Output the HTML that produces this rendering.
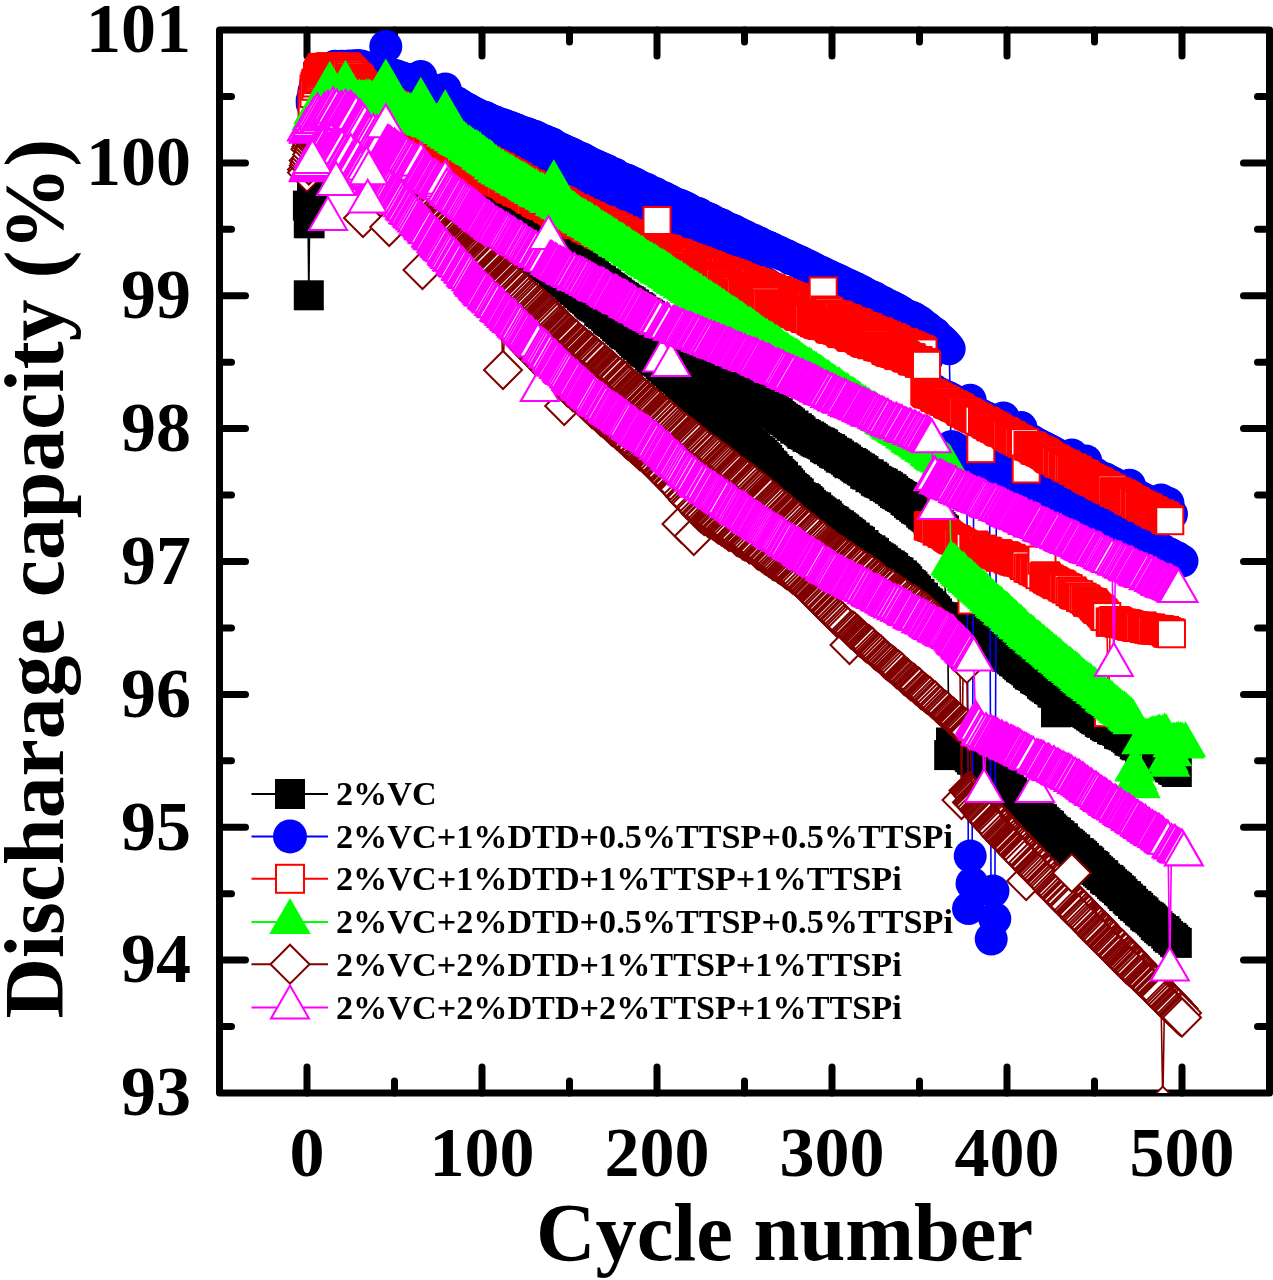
<!DOCTYPE html>
<html lang="en"><head><meta charset="utf-8"><title>Discharge capacity vs cycle number</title>
<style>html,body{margin:0;padding:0;background:#fff}svg{display:block}text{font-family:"Liberation Serif",serif;font-weight:bold;fill:#000}</style>
</head><body>
<svg width="1273" height="1280" viewBox="0 0 1273 1280">
<rect width="1273" height="1280" fill="#fff"/>
<defs>
<clipPath id="cp"><rect x="219.5" y="30.0" width="1050.0" height="1063.0"/></clipPath>
<marker id="mk" markerUnits="userSpaceOnUse" markerWidth="60" markerHeight="60" refX="0" refY="0" viewBox="-30 -30 60 60" overflow="visible"><rect x="-15" y="-15" width="30" height="30" fill="#000"/></marker>
<marker id="mb" markerUnits="userSpaceOnUse" markerWidth="60" markerHeight="60" refX="0" refY="0" viewBox="-30 -30 60 60" overflow="visible"><circle r="16.5" fill="#0000ff"/></marker>
<marker id="mr" markerUnits="userSpaceOnUse" markerWidth="60" markerHeight="60" refX="0" refY="0" viewBox="-30 -30 60 60" overflow="visible"><rect x="-13.5" y="-13.5" width="27" height="27" fill="#fff" stroke="#ff0000" stroke-width="2"/></marker>
<marker id="mg" markerUnits="userSpaceOnUse" markerWidth="60" markerHeight="60" refX="0" refY="0" viewBox="-30 -30 60 60" overflow="visible"><path d="M0,-21.94 L19.00,10.97 L-19.00,10.97 Z" fill="#00ff00" stroke="#00ff00" stroke-width="2" stroke-linejoin="miter"/></marker>
<marker id="mn" markerUnits="userSpaceOnUse" markerWidth="60" markerHeight="60" refX="0" refY="0" viewBox="-30 -30 60 60" overflow="visible"><path d="M0,-19 L19,0 L0,19 L-19,0 Z" fill="#fff" stroke="#800000" stroke-width="2"/></marker>
<marker id="mm" markerUnits="userSpaceOnUse" markerWidth="60" markerHeight="60" refX="0" refY="0" viewBox="-30 -30 60 60" overflow="visible"><path d="M0,-21.94 L19.00,10.97 L-19.00,10.97 Z" fill="#fff" stroke="#ff00ff" stroke-width="2.1" stroke-linejoin="miter"/></marker>
</defs>
<g stroke="#000" stroke-width="7" stroke-linecap="round" fill="none">
<rect x="219.5" y="30.0" width="1050.0" height="1063.0" stroke-linejoin="round"/>
<path d="M307.0,30.0 v26.0 M307.0,1093.0 v-26.0"/>
<path d="M394.5,30.0 v12.0 M394.5,1093.0 v-12.0"/>
<path d="M482.0,30.0 v26.0 M482.0,1093.0 v-26.0"/>
<path d="M569.5,30.0 v12.0 M569.5,1093.0 v-12.0"/>
<path d="M657.0,30.0 v26.0 M657.0,1093.0 v-26.0"/>
<path d="M744.5,30.0 v12.0 M744.5,1093.0 v-12.0"/>
<path d="M832.0,30.0 v26.0 M832.0,1093.0 v-26.0"/>
<path d="M919.5,30.0 v12.0 M919.5,1093.0 v-12.0"/>
<path d="M1007.0,30.0 v26.0 M1007.0,1093.0 v-26.0"/>
<path d="M1094.5,30.0 v12.0 M1094.5,1093.0 v-12.0"/>
<path d="M1182.0,30.0 v26.0 M1182.0,1093.0 v-26.0"/>
<path d="M219.5,1026.6 h12.0 M1269.5,1026.6 h-12.0"/>
<path d="M219.5,960.1 h26.0 M1269.5,960.1 h-26.0"/>
<path d="M219.5,893.7 h12.0 M1269.5,893.7 h-12.0"/>
<path d="M219.5,827.2 h26.0 M1269.5,827.2 h-26.0"/>
<path d="M219.5,760.8 h12.0 M1269.5,760.8 h-12.0"/>
<path d="M219.5,694.4 h26.0 M1269.5,694.4 h-26.0"/>
<path d="M219.5,627.9 h12.0 M1269.5,627.9 h-12.0"/>
<path d="M219.5,561.5 h26.0 M1269.5,561.5 h-26.0"/>
<path d="M219.5,495.1 h12.0 M1269.5,495.1 h-12.0"/>
<path d="M219.5,428.6 h26.0 M1269.5,428.6 h-26.0"/>
<path d="M219.5,362.2 h12.0 M1269.5,362.2 h-12.0"/>
<path d="M219.5,295.8 h26.0 M1269.5,295.8 h-26.0"/>
<path d="M219.5,229.3 h12.0 M1269.5,229.3 h-12.0"/>
<path d="M219.5,162.9 h26.0 M1269.5,162.9 h-26.0"/>
<path d="M219.5,96.4 h12.0 M1269.5,96.4 h-12.0"/>
</g>
<g clip-path="url(#cp)" fill="none" stroke-width="1.6">
<polyline points="307.9,205.6 308.8,295.3 309.6,223.3 310.5,214.1 312.2,197.1 314.0,178.9 315.8,160.0 317.5,156.6 319.2,155.0 321.0,152.3 322.8,150.9 324.5,146.8 326.2,145.7 328.0,143.5 329.8,140.5 331.5,138.1 333.2,134.4 335.0,136.3 336.8,135.7 338.5,136.9 340.2,137.2 342.0,136.0 343.8,137.6 345.5,138.2 347.2,136.8 349.0,137.7 350.8,138.8 352.5,138.0 354.2,139.8 356.0,138.9 357.8,140.3 359.5,139.3 361.2,140.8 363.0,142.5 364.8,141.9 366.5,142.8 368.2,144.1 370.0,144.5 371.8,144.8 373.5,145.9 375.2,146.7 377.0,149.0 378.8,149.3 380.5,150.6 382.2,149.9 384.0,152.0 385.8,151.4 387.5,153.1 389.2,154.1 391.0,154.4 392.8,156.2 394.5,156.4 396.2,157.3 398.0,158.7 399.8,157.9 401.5,160.5 403.2,160.6 405.0,161.0 406.8,162.6 408.5,162.3 410.2,164.6 412.0,164.6 413.8,165.0 415.5,166.6 417.2,166.8 419.0,167.0 420.8,169.0 422.5,168.4 424.2,170.8 426.0,170.5 427.8,172.0 429.5,173.5 431.2,173.6 433.0,174.5 434.8,174.6 436.5,174.8 438.2,175.7 440.0,176.8 441.8,178.5 443.5,179.0 445.2,179.9 447.0,181.5 448.8,180.8 450.5,181.8 452.2,183.5 454.0,183.0 455.8,183.8 457.5,185.3 459.2,185.6 461.0,186.9 462.8,187.5 464.5,189.0 466.2,189.8 468.0,189.9 469.8,191.5 471.5,192.1 473.2,192.2 475.0,194.6 476.8,194.0 478.5,194.7 480.2,195.4 482.0,197.3 483.8,199.0 485.5,200.0 487.2,200.5 489.0,201.5 490.8,202.2 492.5,204.7 494.2,205.8 496.0,206.6 497.8,208.4 499.5,209.3 501.2,211.5 503.0,212.3 504.8,212.6 506.5,215.2 508.2,214.7 510.0,216.9 511.8,217.9 513.5,218.8 515.2,219.7 517.0,222.3 518.8,222.0 520.5,224.4 522.2,226.4 524.0,226.0 525.8,227.4 527.5,229.4 529.2,230.5 531.0,232.0 532.8,233.6 534.5,233.5 536.2,235.0 538.0,236.2 539.8,237.0 541.5,239.9 543.2,240.9 545.0,242.0 546.8,241.8 548.5,244.8 550.2,245.8 552.0,246.5 553.8,248.3 555.5,248.9 557.2,249.7 559.0,250.7 560.8,252.2 562.5,253.1 564.2,254.9 566.0,257.0 567.8,258.1 569.5,259.6 571.2,260.6 573.0,260.9 574.8,262.8 576.5,263.8 578.2,265.7 580.0,266.4 581.8,267.1 583.5,269.1 585.2,271.0 587.0,270.8 588.8,273.3 590.5,272.8 592.2,274.6 594.0,275.8 595.8,278.0 597.5,279.7 599.2,280.5 601.0,280.9 602.8,283.3 604.5,283.5 606.2,284.6 608.0,287.2 609.8,287.9 611.5,289.3 613.2,290.5 615.0,292.4 616.8,292.6 618.5,294.6 620.2,295.6 622.0,297.2 623.8,297.7 625.5,299.5 627.2,300.5 629.0,301.2 630.8,302.3 632.5,304.4 634.2,304.6 636.0,307.5 637.8,307.2 639.5,308.3 641.2,309.7 643.0,312.6 644.8,312.7 646.5,313.6 648.2,314.6 650.0,315.9 651.8,318.5 653.5,319.6 655.2,321.0 657.0,322.4 658.8,322.3 660.5,324.6 662.2,325.4 664.0,327.6 665.8,328.9 667.5,330.3 669.2,329.9 671.0,332.8 672.8,334.2 674.5,335.5 676.2,335.1 678.0,336.5 679.8,337.6 681.5,338.7 683.2,341.6 685.0,342.8 686.8,343.8 688.5,345.4 690.2,346.3 692.0,346.9 693.8,347.8 695.5,349.0 697.2,351.6 699.0,351.8 700.8,353.3 702.5,354.8 704.2,355.2 706.0,357.0 707.8,358.3 709.5,360.4 711.2,361.0 713.0,362.2 714.8,364.7 716.5,365.1 718.2,367.0 720.0,367.8 721.8,367.9 723.5,370.0 725.2,371.3 727.0,373.2 728.8,373.7 730.5,375.6 732.2,376.6 734.0,377.4 735.8,380.2 737.5,380.2 739.2,383.1 741.0,383.3 742.8,384.5 744.5,386.4 746.2,389.0 748.0,391.0 749.8,390.5 751.5,393.0 753.2,394.5 755.0,396.6 756.8,396.8 758.5,398.8 760.2,399.8 762.0,402.2 763.8,402.4 765.5,405.2 767.2,405.3 769.0,406.5 770.8,408.9 772.5,409.8 774.2,410.5 776.0,412.9 777.8,413.2 779.5,416.0 781.2,417.2 783.0,418.7 784.8,419.8 786.5,420.6 788.2,422.1 790.0,423.5 791.8,425.9 793.5,425.6 795.2,428.6 797.0,428.3 798.8,430.0 800.5,431.5 802.2,433.8 804.0,434.0 805.8,434.8 807.5,436.8 809.2,436.5 811.0,437.9 812.8,439.1 814.5,440.5 816.2,441.5 818.0,442.3 819.8,442.7 821.5,443.8 823.2,444.6 825.0,447.1 826.8,447.9 828.5,449.2 830.2,449.2 832.0,450.9 833.8,452.7 835.5,453.5 837.2,453.7 839.0,455.6 840.8,457.6 842.5,457.4 844.2,458.5 846.0,459.8 847.8,461.8 849.5,463.2 851.2,463.0 853.0,464.1 854.8,465.5 856.5,466.8 858.2,468.3 860.0,468.7 861.8,470.2 863.5,471.1 865.2,473.8 867.0,474.5 868.8,474.4 870.5,477.2 872.2,476.7 874.0,478.4 875.8,480.7 877.5,481.5 879.2,482.5 881.0,483.1 882.8,483.8 884.5,485.8 886.2,485.9 888.0,487.2 889.8,488.7 891.5,489.2 893.2,491.1 895.0,493.0 896.8,493.9 898.5,494.7 900.2,496.1 902.0,496.9 903.8,497.7 905.5,500.0 907.2,500.9 909.0,503.0 910.8,504.7 912.5,505.1 914.2,506.8 916.0,508.5 917.8,509.2 919.5,510.2 921.2,512.6 923.0,514.3 924.8,515.4 926.5,516.7 928.2,518.3 930.0,519.4 931.8,520.7 933.5,521.7 935.2,522.8 937.0,524.8 938.8,525.1 940.5,527.1 942.2,529.2 944.0,530.4 945.8,617.3 947.5,617.6 949.2,619.0 951.0,620.2 952.8,621.6 954.5,622.3 956.2,623.9 958.0,625.5 959.8,625.1 961.5,627.1 963.2,628.5 965.0,628.8 966.8,630.1 968.5,632.1 970.2,631.3 972.0,633.5 973.8,633.8 975.5,636.1 977.2,637.5 979.0,637.8 980.8,638.0 982.5,640.1 984.2,641.1 986.0,642.5 987.8,643.2 989.5,644.6 991.2,646.0 993.0,646.5 994.8,647.4 996.5,649.5 998.2,649.1 1000.0,651.2 1001.8,651.7 1003.5,653.5 1005.2,653.6 1007.0,656.7 1008.8,656.8 1010.5,657.6 1012.2,659.4 1014.0,661.1 1015.8,661.7 1017.5,663.9 1019.2,665.3 1021.0,667.2 1022.8,667.9 1024.5,669.1 1026.2,670.4 1028.0,672.8 1029.8,674.6 1031.5,675.1 1033.2,675.9 1035.0,678.4 1036.8,679.0 1038.5,680.0 1040.2,681.2 1042.0,683.9 1043.8,685.3 1045.5,686.4 1047.2,687.4 1049.0,689.0 1050.8,689.7 1052.5,692.5 1054.2,692.7 1056.0,712.3 1057.8,695.6 1059.5,696.7 1061.2,697.1 1063.0,697.8 1064.8,699.4 1066.5,699.7 1068.2,702.2 1070.0,702.3 1071.8,704.4 1073.5,704.3 1075.2,705.6 1077.0,706.4 1078.8,707.9 1080.5,708.5 1082.2,709.2 1084.0,711.7 1085.8,711.9 1087.5,712.9 1089.2,714.1 1091.0,715.5 1092.8,716.5 1094.5,718.0 1096.2,719.2 1098.0,719.6 1099.8,721.9 1101.5,722.8 1103.2,722.3 1105.0,724.9 1106.8,726.1 1108.5,727.0 1110.2,726.8 1112.0,729.2 1113.8,729.9 1115.5,729.8 1117.2,730.9 1119.0,733.8 1120.8,734.3 1122.5,734.7 1124.2,735.6 1126.0,736.8 1127.8,738.2 1129.5,740.5 1131.2,740.8 1133.0,741.6 1134.8,744.3 1136.5,745.3 1138.2,745.2 1140.0,747.8 1141.8,748.5 1143.5,750.0 1145.2,751.0 1147.0,752.6 1148.8,753.6 1150.5,754.9 1152.2,754.8 1154.0,756.9 1155.8,757.8 1157.5,759.4 1159.2,760.0 1161.0,762.1 1162.8,762.6 1164.5,763.2 1166.2,764.3 1168.0,765.3 1169.8,767.2 1171.5,767.6 1173.2,769.6 1175.0,770.1 1176.8,772.0" stroke="#000" marker-start="url(#mk)" marker-mid="url(#mk)" marker-end="url(#mk)"/>
<polyline points="308.8,223.0 310.5,208.6 312.2,194.7 314.0,178.5 315.8,165.7 317.5,162.4 319.2,160.1 321.0,157.8 322.8,155.7 324.5,152.2 326.2,149.8 328.0,148.4 329.8,144.2 331.5,142.8 333.2,140.3 335.0,139.5 336.8,141.0 338.5,141.6 340.2,142.5 342.0,141.7 343.8,143.4 345.5,142.8 347.2,143.2 349.0,144.4 350.8,143.1 352.5,144.8 354.2,145.1 356.0,144.9 357.8,146.3 359.5,145.7 361.2,146.9 363.0,147.9 364.8,149.3 366.5,149.1 368.2,150.4 370.0,151.3 371.8,152.5 373.5,154.0 375.2,153.8 377.0,155.8 378.8,155.9 380.5,157.0 382.2,157.4 384.0,158.8 385.8,160.7 387.5,160.9 389.2,162.1 391.0,162.1 392.8,163.0 394.5,163.9 396.2,165.4 398.0,166.4 399.8,167.6 401.5,167.0 403.2,169.3 405.0,170.5 406.8,170.8 408.5,170.7 410.2,172.1 412.0,172.4 413.8,173.7 415.5,176.1 417.2,176.4 419.0,177.4 420.8,178.6 422.5,179.7 424.2,180.1 426.0,181.0 427.8,181.9 429.5,183.0 431.2,183.7 433.0,184.8 434.8,184.7 436.5,186.6 438.2,187.1 440.0,188.6 441.8,188.2 443.5,189.2 445.2,189.9 447.0,192.3 448.8,193.5 450.5,193.9 452.2,194.2 454.0,196.0 455.8,196.9 457.5,197.3 459.2,197.6 461.0,198.6 462.8,199.8 464.5,200.5 466.2,201.6 468.0,203.0 469.8,204.5 471.5,203.6 473.2,205.6 475.0,205.4 476.8,206.5 478.5,208.8 480.2,209.2 482.0,210.8 483.8,211.4 485.5,212.0 487.2,214.3 489.0,216.2 490.8,218.3 492.5,219.9 494.2,220.4 496.0,221.8 497.8,222.6 499.5,225.2 501.2,225.8 503.0,227.2 504.8,228.4 506.5,229.9 508.2,232.8 510.0,233.1 511.8,236.3 513.5,236.0 515.2,239.1 517.0,239.1 518.8,240.4 520.5,243.3 522.2,243.8 524.0,246.3 525.8,246.7 527.5,247.9 529.2,250.8 531.0,252.2 532.8,254.0 534.5,255.2 536.2,255.4 538.0,258.0 539.8,259.7 541.5,260.7 543.2,263.1 545.0,263.2 546.8,266.2 548.5,267.2 550.2,267.2 552.0,268.7 553.8,271.5 555.5,273.3 557.2,273.3 559.0,275.3 560.8,277.6 562.5,278.0 564.2,280.9 566.0,281.6 567.8,282.3 569.5,284.4 571.2,286.3 573.0,287.5 574.8,289.5 576.5,289.9 578.2,292.7 580.0,293.3 581.8,295.4 583.5,296.8 585.2,297.9 587.0,299.3 588.8,301.6 590.5,303.4 592.2,304.6 594.0,305.7 595.8,306.6 597.5,307.6 599.2,310.9 601.0,312.0 602.8,313.7 604.5,314.3 606.2,316.4 608.0,318.7 609.8,319.9 611.5,321.0 613.2,322.0 615.0,323.8 616.8,326.2 618.5,326.8 620.2,328.9 622.0,330.3 623.8,332.4 625.5,333.8 627.2,334.3 629.0,335.3 630.8,337.4 632.5,339.2 634.2,341.1 636.0,343.1 637.8,344.8 639.5,344.6 641.2,347.8 643.0,349.3 644.8,350.9 646.5,351.9 648.2,352.8 650.0,355.5 651.8,357.0 653.5,358.3 655.2,360.3 657.0,360.7 658.8,361.7 660.5,364.2 662.2,366.3 664.0,366.6 665.8,369.3 667.5,371.2 669.2,371.3 671.0,373.6 672.8,375.3 674.5,376.4 676.2,377.4 678.0,379.1 679.8,381.6 681.5,383.2 683.2,384.1 685.0,384.9 686.8,387.9 688.5,389.4 690.2,389.9 692.0,392.1 693.8,394.3 695.5,395.8 697.2,396.6 699.0,398.1 700.8,399.8 702.5,400.6 704.2,402.1 706.0,403.7 707.8,406.3 709.5,407.1 711.2,409.1 713.0,410.3 714.8,412.1 716.5,412.9 718.2,414.2 720.0,417.7 721.8,418.0 723.5,419.0 725.2,421.6 727.0,423.4 728.8,423.7 730.5,426.1 732.2,427.2 734.0,429.1 735.8,429.7 737.5,431.3 739.2,434.8 741.0,436.1 742.8,436.9 744.5,438.7 746.2,439.6 748.0,442.3 749.8,443.1 751.5,445.7 753.2,447.0 755.0,448.6 756.8,450.8 758.5,451.2 760.2,452.6 762.0,454.8 763.8,456.6 765.5,458.2 767.2,460.0 769.0,462.9 770.8,465.4 772.5,466.4 774.2,469.2 776.0,471.0 777.8,471.1 779.5,474.0 781.2,475.5 783.0,476.8 784.8,480.3 786.5,480.7 788.2,483.2 790.0,485.2 791.8,487.7 793.5,489.0 795.2,490.2 797.0,492.2 798.8,493.5 800.5,496.9 802.2,498.3 804.0,498.2 805.8,499.2 807.5,501.0 809.2,502.5 811.0,505.0 812.8,506.4 814.5,507.6 816.2,507.4 818.0,510.2 819.8,511.4 821.5,512.7 823.2,514.7 825.0,514.3 826.8,515.8 828.5,518.4 830.2,520.2 832.0,521.0 833.8,521.7 835.5,523.6 837.2,525.3 839.0,525.4 840.8,527.2 842.5,528.5 844.2,529.6 846.0,531.7 847.8,532.5 849.5,534.0 851.2,535.2 853.0,537.6 854.8,537.7 856.5,540.5 858.2,540.8 860.0,541.9 861.8,545.0 863.5,545.0 865.2,547.8 867.0,549.1 868.8,550.5 870.5,550.4 872.2,552.4 874.0,553.1 875.8,556.1 877.5,557.3 879.2,558.3 881.0,559.3 882.8,560.5 884.5,562.8 886.2,563.5 888.0,565.2 889.8,565.6 891.5,567.1 893.2,568.2 895.0,570.9 896.8,572.0 898.5,572.5 900.2,575.4 902.0,575.5 903.8,577.7 905.5,579.1 907.2,581.2 909.0,584.2 910.8,585.1 912.5,586.6 914.2,589.2 916.0,590.7 917.8,593.8 919.5,594.1 921.2,597.7 923.0,597.7 924.8,601.3 926.5,602.7 928.2,603.7 930.0,606.1 931.8,607.6 933.5,609.4 935.2,611.2 937.0,613.4 938.8,616.6 940.5,618.5 942.2,620.2 944.0,620.4 945.8,622.7 947.5,625.8 949.2,755.1 951.0,742.5 952.8,743.0 954.5,745.8 956.2,745.2 958.0,748.2 959.8,748.7 961.5,749.7 963.2,750.8 965.0,753.9 966.8,754.7 968.5,755.4 970.2,757.3 972.0,759.6 973.8,759.6 975.5,761.7 977.2,762.3 979.0,763.8 980.8,766.3 982.5,767.6 984.2,768.0 986.0,769.2 987.8,770.6 989.5,773.0 991.2,774.2 993.0,775.1 994.8,776.4 996.5,778.8 998.2,780.6 1000.0,782.4 1001.8,783.6 1003.5,784.4 1005.2,785.7 1007.0,788.7 1008.8,789.6 1010.5,791.8 1012.2,792.1 1014.0,795.2 1015.8,795.8 1017.5,798.5 1019.2,800.1 1021.0,801.0 1022.8,801.6 1024.5,805.0 1026.2,805.7 1028.0,808.1 1029.8,808.5 1031.5,809.9 1033.2,812.8 1035.0,813.5 1036.8,814.7 1038.5,816.7 1040.2,818.7 1042.0,819.2 1043.8,821.8 1045.5,823.2 1047.2,825.0 1049.0,825.8 1050.8,828.6 1052.5,830.4 1054.2,832.1 1056.0,832.6 1057.8,835.0 1059.5,835.9 1061.2,838.2 1063.0,838.4 1064.8,841.7 1066.5,843.4 1068.2,844.1 1070.0,845.7 1071.8,847.4 1073.5,849.0 1075.2,849.6 1077.0,853.0 1078.8,853.2 1080.5,854.7 1082.2,856.1 1084.0,858.0 1085.8,860.7 1087.5,860.8 1089.2,862.5 1091.0,865.3 1092.8,865.9 1094.5,867.1 1096.2,869.9 1098.0,871.4 1099.8,872.9 1101.5,874.9 1103.2,875.3 1105.0,878.4 1106.8,879.7 1108.5,880.0 1110.2,881.7 1112.0,884.1 1113.8,885.7 1115.5,886.8 1117.2,888.1 1119.0,890.3 1120.8,891.3 1122.5,893.8 1124.2,896.0 1126.0,896.2 1127.8,898.6 1129.5,900.5 1131.2,901.0 1133.0,903.9 1134.8,905.7 1136.5,906.2 1138.2,907.9 1140.0,910.3 1141.8,911.3 1143.5,912.6 1145.2,915.3 1147.0,916.6 1148.8,917.3 1150.5,918.7 1152.2,920.5 1154.0,922.3 1155.8,925.0 1157.5,926.2 1159.2,928.0 1161.0,929.4 1162.8,931.1 1164.5,931.1 1166.2,933.6 1168.0,936.1 1169.8,937.7 1171.5,937.9 1173.2,939.8 1175.0,941.9 1176.8,942.9" stroke="#000" marker-start="url(#mk)" marker-mid="url(#mk)" marker-end="url(#mk)"/>
<polyline points="312.2,103.7 314.0,95.5 315.8,88.5 317.5,83.7 319.2,79.8 321.0,76.1 322.8,74.9 324.5,74.8 326.2,73.0 328.0,71.8 329.8,71.8 331.5,71.1 333.2,70.5 335.0,70.5 336.8,70.9 338.5,71.1 340.2,70.5 342.0,70.7 343.8,70.3 345.5,70.6 347.2,71.2 349.0,70.5 350.8,71.6 352.5,70.9 354.2,71.5 356.0,72.5 357.8,71.2 359.5,71.3 361.2,72.6 363.0,72.8 364.8,74.4 366.5,73.9 368.2,75.9 370.0,76.6 371.8,77.1 373.5,77.2 375.2,77.7 377.0,78.9 378.8,79.4 380.5,79.9 382.2,80.4 384.0,81.2 385.8,82.3 387.5,83.2 389.2,83.9 391.0,83.4 392.8,84.3 394.5,85.2 396.2,86.0 398.0,86.3 399.8,86.7 401.5,87.2 403.2,88.2 405.0,89.1 406.8,90.6 408.5,91.1 410.2,91.7 412.0,92.5 413.8,93.1 415.5,93.2 417.2,94.2 419.0,93.6 420.8,95.3 422.5,96.2 424.2,96.8 426.0,98.3 427.8,100.0 429.5,100.3 431.2,101.6 433.0,102.1 434.8,103.2 436.5,105.1 438.2,104.8 440.0,106.1 441.8,108.0 443.5,108.7 445.2,109.1 447.0,111.1 448.8,111.7 450.5,113.1 452.2,113.9 454.0,115.1 455.8,116.2 457.5,117.0 459.2,117.6 461.0,118.8 462.8,121.0 464.5,121.5 466.2,121.9 468.0,124.1 469.8,124.2 471.5,125.0 473.2,126.8 475.0,127.4 476.8,128.8 478.5,130.0 480.2,130.5 482.0,132.1 483.8,132.2 485.5,133.6 487.2,134.5 489.0,134.5 490.8,135.8 492.5,136.0 494.2,137.4 496.0,138.9 497.8,139.2 499.5,140.2 501.2,141.1 503.0,140.8 504.8,143.0 506.5,143.4 508.2,143.2 510.0,145.1 511.8,145.2 513.5,145.7 515.2,147.7 517.0,147.9 518.8,149.0 520.5,148.8 522.2,150.6 524.0,150.2 525.8,151.3 527.5,152.3 529.2,152.5 531.0,154.2 532.8,154.4 534.5,155.3 536.2,156.8 538.0,157.1 539.8,158.6 541.5,159.1 543.2,160.5 545.0,161.0 546.8,162.5 548.5,163.4 550.2,163.2 552.0,165.1 553.8,165.4 555.5,167.0 557.2,167.8 559.0,169.0 560.8,168.9 562.5,170.2 564.2,171.8 566.0,173.0 567.8,173.6 569.5,173.5 571.2,175.4 573.0,175.5 574.8,177.2 576.5,178.5 578.2,178.4 580.0,180.7 581.8,181.2 583.5,181.5 585.2,182.3 587.0,183.7 588.8,185.3 590.5,185.8 592.2,186.0 594.0,186.8 595.8,187.9 597.5,190.0 599.2,190.0 601.0,191.5 602.8,192.1 604.5,193.6 606.2,194.1 608.0,194.7 609.8,196.8 611.5,197.2 613.2,198.4 615.0,199.6 616.8,200.7 618.5,200.2 620.2,201.7 622.0,202.3 623.8,203.9 625.5,205.4 627.2,206.2 629.0,206.0 630.8,207.2 632.5,209.1 634.2,209.9 636.0,210.4 637.8,211.5 639.5,211.9 641.2,214.0 643.0,214.2 644.8,215.9 646.5,216.4 648.2,216.5 650.0,217.9 651.8,218.7 653.5,220.7 655.2,221.2 657.0,221.3 658.8,222.5 660.5,223.8 662.2,224.9 664.0,226.1 665.8,226.8 667.5,227.8 669.2,228.2 671.0,230.1 672.8,230.7 674.5,231.2 676.2,232.9 678.0,234.8 679.8,234.3 681.5,235.4 683.2,237.3 685.0,237.6 686.8,238.6 688.5,240.0 690.2,240.6 692.0,242.1 693.8,243.0 695.5,244.7 697.2,245.8 699.0,245.3 700.8,247.1 702.5,248.4 704.2,249.6 706.0,250.4 707.8,251.2 709.5,252.2 711.2,252.8 713.0,253.7 714.8,255.5 716.5,256.6 718.2,257.7 720.0,258.3 721.8,258.7 723.5,260.4 725.2,261.4 727.0,262.0 728.8,263.2 730.5,263.8 732.2,265.1 734.0,265.8 735.8,266.3 737.5,267.7 739.2,268.7 741.0,270.8 742.8,271.0 744.5,271.8 746.2,272.6 748.0,273.6 749.8,274.8 751.5,275.4 753.2,276.2 755.0,278.6 756.8,278.9 758.5,279.9 760.2,281.1 762.0,281.7 763.8,282.5 765.5,283.3 767.2,284.7 769.0,285.7 770.8,287.4 772.5,288.1 774.2,289.7 776.0,289.7 777.8,291.7 779.5,292.1 781.2,292.3 783.0,293.5 784.8,295.1 786.5,296.8 788.2,296.8 790.0,298.4 791.8,298.9 793.5,300.6 795.2,300.3 797.0,302.0 798.8,303.6 800.5,303.6 802.2,304.6 804.0,305.2 805.8,306.5 807.5,307.6 809.2,309.3 811.0,309.5 812.8,310.8 814.5,311.5 816.2,313.2 818.0,314.6 819.8,315.2 821.5,315.5 823.2,317.4 825.0,318.7 826.8,319.2 828.5,319.3 830.2,321.2 832.0,322.0 833.8,321.9 835.5,322.3 837.2,323.1 839.0,324.3 840.8,325.6 842.5,325.9 844.2,327.1 846.0,326.7 847.8,327.6 849.5,329.0 851.2,329.5 853.0,329.8 854.8,331.0 856.5,331.2 858.2,331.4 860.0,332.7 861.8,332.8 863.5,334.5 865.2,334.7 867.0,335.7 868.8,336.6 870.5,336.8 872.2,337.8 874.0,337.8 875.8,340.0 877.5,340.1 879.2,341.5 881.0,340.7 882.8,342.3 884.5,343.2 886.2,343.3 888.0,343.6 889.8,344.4 891.5,345.1 893.2,346.9 895.0,346.5 896.8,348.4 898.5,348.4 900.2,349.3 902.0,350.1 903.8,350.8 905.5,351.7 907.2,352.3 909.0,352.6 910.8,354.0 912.5,353.9 914.2,355.3 916.0,356.1 917.8,356.9 919.5,356.8 921.2,358.3 923.0,359.3 924.8,359.2 926.5,359.6 928.2,388.0 930.0,389.6 931.8,389.2 933.5,389.9 935.2,391.6 937.0,392.8 938.8,393.9 940.5,394.1 942.2,396.0 944.0,395.7 945.8,397.5 947.5,397.3 949.2,398.1 951.0,399.2 952.8,400.0 954.5,401.6 956.2,402.6 958.0,402.9 959.8,405.0 961.5,405.0 963.2,405.6 965.0,406.5 966.8,408.3 968.5,409.5 970.2,400.2 972.0,409.9 973.8,412.0 975.5,412.1 977.2,414.2 979.0,414.3 980.8,415.4 982.5,415.9 984.2,417.5 986.0,417.8 987.8,418.5 989.5,420.4 991.2,420.0 993.0,421.9 994.8,421.8 996.5,423.6 998.2,424.1 1000.0,425.7 1001.8,425.4 1003.5,418.1 1005.2,427.7 1007.0,429.5 1008.8,430.4 1010.5,430.8 1012.2,431.1 1014.0,432.0 1015.8,432.9 1017.5,434.1 1019.2,434.7 1021.0,427.6 1022.8,437.4 1024.5,438.1 1026.2,438.4 1028.0,440.5 1029.8,440.1 1031.5,441.6 1033.2,441.8 1035.0,443.9 1036.8,444.8 1038.5,444.7 1040.2,446.4 1042.0,447.4 1043.8,447.5 1045.5,448.5 1047.2,449.6 1049.0,451.2 1050.8,450.9 1052.5,452.7 1054.2,453.4 1056.0,454.1 1057.8,455.2 1059.5,456.6 1061.2,456.4 1063.0,458.4 1064.8,458.5 1066.5,460.1 1068.2,461.1 1070.0,460.9 1071.8,454.9 1073.5,464.0 1075.2,463.8 1077.0,464.3 1078.8,465.3 1080.5,467.6 1082.2,467.0 1084.0,469.3 1085.8,461.0 1087.5,470.9 1089.2,470.8 1091.0,471.8 1092.8,473.5 1094.5,473.5 1096.2,474.8 1098.0,476.6 1099.8,477.2 1101.5,478.4 1103.2,479.4 1105.0,478.8 1106.8,480.0 1108.5,481.8 1110.2,482.6 1112.0,482.4 1113.8,484.1 1115.5,484.6 1117.2,485.8 1119.0,486.2 1120.8,486.9 1122.5,489.4 1124.2,489.2 1126.0,491.0 1127.8,490.7 1129.5,485.2 1131.2,492.6 1133.0,493.9 1134.8,494.5 1136.5,496.2 1138.2,496.2 1140.0,498.1 1141.8,498.6 1143.5,498.9 1145.2,500.2 1147.0,501.3 1148.8,502.9 1150.5,502.9 1152.2,503.6 1154.0,505.7 1155.8,506.5 1157.5,507.1 1159.2,507.3 1161.0,500.0 1162.8,509.1 1164.5,509.7 1166.2,510.5 1168.0,503.2 1169.8,512.9 1171.5,514.1" stroke="#0000ff" marker-start="url(#mb)" marker-mid="url(#mb)" marker-end="url(#mb)"/>
<polyline points="312.2,100.0 314.0,91.3 315.8,83.9 317.5,80.3 319.2,75.9 321.0,72.4 322.8,72.9 324.5,71.7 326.2,71.1 328.0,69.8 329.8,69.2 331.5,68.5 333.2,67.6 335.0,66.2 336.8,67.1 338.5,66.4 340.2,67.0 342.0,66.3 343.8,66.7 345.5,67.2 347.2,66.7 349.0,66.0 350.8,66.4 352.5,66.2 354.2,66.9 356.0,65.8 357.8,65.8 359.5,66.2 361.2,65.9 363.0,67.1 364.8,68.1 366.5,67.9 368.2,68.0 370.0,68.7 371.8,69.3 373.5,69.2 375.2,69.6 377.0,70.1 378.8,70.8 380.5,71.5 382.2,71.7 384.0,72.1 385.8,46.4 387.5,73.6 389.2,74.6 391.0,74.8 392.8,75.3 394.5,76.0 396.2,75.8 398.0,77.2 399.8,77.3 401.5,78.0 403.2,78.7 405.0,79.0 406.8,79.3 408.5,79.7 410.2,80.3 412.0,81.3 413.8,81.6 415.5,82.5 417.2,82.1 419.0,83.2 420.8,76.6 422.5,84.5 424.2,86.0 426.0,86.8 427.8,87.4 429.5,89.5 431.2,89.3 433.0,91.0 434.8,91.0 436.5,91.8 438.2,94.0 440.0,94.3 441.8,94.6 443.5,96.1 445.2,89.1 447.0,98.5 448.8,98.5 450.5,99.6 452.2,101.7 454.0,102.3 455.8,102.3 457.5,103.5 459.2,104.5 461.0,106.0 462.8,106.8 464.5,108.1 466.2,109.0 468.0,109.5 469.8,110.8 471.5,111.7 473.2,112.7 475.0,113.2 476.8,114.6 478.5,115.4 480.2,116.7 482.0,116.4 483.8,118.3 485.5,117.5 487.2,119.4 489.0,119.8 490.8,120.3 492.5,121.7 494.2,121.8 496.0,122.2 497.8,123.5 499.5,124.3 501.2,124.5 503.0,124.8 504.8,125.6 506.5,126.3 508.2,127.4 510.0,127.3 511.8,128.2 513.5,129.1 515.2,129.5 517.0,130.0 518.8,131.5 520.5,132.2 522.2,132.3 524.0,132.9 525.8,133.2 527.5,134.0 529.2,134.4 531.0,135.8 532.8,136.5 534.5,136.3 536.2,138.3 538.0,138.1 539.8,139.5 541.5,140.4 543.2,141.4 545.0,141.0 546.8,142.2 548.5,143.8 550.2,143.2 552.0,144.1 553.8,145.8 555.5,146.5 557.2,148.0 559.0,148.6 560.8,149.1 562.5,150.7 564.2,150.7 566.0,151.6 567.8,152.7 569.5,153.0 571.2,153.8 573.0,155.0 574.8,155.5 576.5,157.3 578.2,157.7 580.0,158.3 581.8,158.4 583.5,159.7 585.2,160.6 587.0,161.7 588.8,162.5 590.5,163.8 592.2,164.8 594.0,164.9 595.8,165.7 597.5,166.8 599.2,168.2 601.0,168.0 602.8,169.1 604.5,170.4 606.2,170.2 608.0,171.3 609.8,173.2 611.5,173.8 613.2,174.1 615.0,174.3 616.8,176.4 618.5,176.9 620.2,178.0 622.0,179.1 623.8,179.7 625.5,179.8 627.2,180.2 629.0,181.3 630.8,182.5 632.5,183.3 634.2,183.6 636.0,184.5 637.8,186.0 639.5,186.8 641.2,187.2 643.0,189.1 644.8,189.4 646.5,189.3 648.2,190.7 650.0,192.1 651.8,192.2 653.5,193.6 655.2,193.4 657.0,194.7 658.8,196.4 660.5,196.8 662.2,197.8 664.0,197.8 665.8,199.1 667.5,200.1 669.2,200.4 671.0,201.9 672.8,202.5 674.5,204.1 676.2,204.2 678.0,204.8 679.8,205.2 681.5,206.0 683.2,207.8 685.0,207.6 686.8,208.4 688.5,209.4 690.2,210.8 692.0,212.1 693.8,212.6 695.5,213.7 697.2,213.3 699.0,214.1 700.8,216.1 702.5,216.2 704.2,217.7 706.0,217.9 707.8,218.5 709.5,219.5 711.2,220.0 713.0,222.1 714.8,222.4 716.5,222.9 718.2,223.9 720.0,224.6 721.8,224.9 723.5,227.1 725.2,227.4 727.0,228.8 728.8,228.8 730.5,230.0 732.2,230.2 734.0,230.7 735.8,232.9 737.5,233.6 739.2,233.6 741.0,235.4 742.8,236.1 744.5,236.1 746.2,237.4 748.0,238.8 749.8,238.9 751.5,240.4 753.2,240.1 755.0,241.2 756.8,242.5 758.5,242.6 760.2,243.5 762.0,245.3 763.8,245.5 765.5,246.8 767.2,246.7 769.0,247.4 770.8,248.6 772.5,249.1 774.2,251.2 776.0,250.9 777.8,252.2 779.5,252.3 781.2,253.8 783.0,254.4 784.8,255.3 786.5,255.5 788.2,256.5 790.0,258.4 791.8,258.5 793.5,259.1 795.2,259.9 797.0,260.9 798.8,261.6 800.5,262.1 802.2,264.0 804.0,264.3 805.8,264.8 807.5,266.5 809.2,266.3 811.0,267.5 812.8,269.2 814.5,268.9 816.2,270.2 818.0,271.7 819.8,272.5 821.5,272.2 823.2,273.4 825.0,274.8 826.8,275.1 828.5,276.8 830.2,276.5 832.0,278.5 833.8,278.6 835.5,279.0 837.2,280.2 839.0,280.5 840.8,282.2 842.5,282.3 844.2,284.2 846.0,284.5 847.8,285.0 849.5,285.6 851.2,287.0 853.0,287.2 854.8,289.1 856.5,288.7 858.2,290.2 860.0,291.1 861.8,291.5 863.5,293.3 865.2,293.6 867.0,294.9 868.8,295.7 870.5,296.2 872.2,297.2 874.0,297.6 875.8,298.7 877.5,300.7 879.2,300.7 881.0,302.2 882.8,302.2 884.5,303.9 886.2,304.5 888.0,305.6 889.8,306.2 891.5,306.7 893.2,308.0 895.0,308.8 896.8,309.5 898.5,311.4 900.2,311.6 902.0,312.7 903.8,314.4 905.5,315.1 907.2,316.2 909.0,317.1 910.8,316.9 912.5,318.0 914.2,318.5 916.0,320.5 917.8,321.4 919.5,321.8 921.2,323.3 923.0,325.1 924.8,326.5 926.5,327.2 928.2,329.6 930.0,330.2 931.8,332.0 933.5,332.7 935.2,334.0 937.0,336.7 938.8,338.2 940.5,340.1 942.2,340.8 944.0,342.7 945.8,344.7 947.5,346.7 949.2,348.7 951.0,446.8 952.8,447.1 954.5,448.4 956.2,449.8 958.0,449.9 959.8,451.8 961.5,452.3 963.2,453.4 965.0,453.5 966.8,454.6 968.5,908.6 970.2,856.0 972.0,883.5 973.8,458.7 975.5,459.5 977.2,459.6 979.0,460.0 980.8,462.2 982.5,462.7 984.2,462.6 986.0,463.8 987.8,464.4 989.5,466.4 991.2,939.0 993.0,891.0 994.8,918.7 996.5,468.7 998.2,470.5 1000.0,470.9 1001.8,472.3 1003.5,473.3 1005.2,473.3 1007.0,473.9 1008.8,476.1 1010.5,476.1 1012.2,477.8 1014.0,478.3 1015.8,479.2 1017.5,480.2 1019.2,480.8 1021.0,481.3 1022.8,481.6 1024.5,483.5 1026.2,483.9 1028.0,484.9 1029.8,486.4 1031.5,486.0 1033.2,487.9 1035.0,487.6 1036.8,489.5 1038.5,490.5 1040.2,490.5 1042.0,491.8 1043.8,493.4 1045.5,493.7 1047.2,494.4 1049.0,494.8 1050.8,495.3 1052.5,496.7 1054.2,497.6 1056.0,498.1 1057.8,499.2 1059.5,499.8 1061.2,501.5 1063.0,502.3 1064.8,502.5 1066.5,503.4 1068.2,504.7 1070.0,505.4 1071.8,507.1 1073.5,507.0 1075.2,507.8 1077.0,509.6 1078.8,509.2 1080.5,510.8 1082.2,511.3 1084.0,512.9 1085.8,513.3 1087.5,514.5 1089.2,514.4 1091.0,516.1 1092.8,516.8 1094.5,517.5 1096.2,518.8 1098.0,519.8 1099.8,519.5 1101.5,520.7 1103.2,521.6 1105.0,522.2 1106.8,522.9 1108.5,524.1 1110.2,524.8 1112.0,526.5 1113.8,526.9 1115.5,527.3 1117.2,528.5 1119.0,529.5 1120.8,530.2 1122.5,530.8 1124.2,531.5 1126.0,532.3 1127.8,534.7 1129.5,535.2 1131.2,535.0 1133.0,536.8 1134.8,538.1 1136.5,538.3 1138.2,538.4 1140.0,539.9 1141.8,540.7 1143.5,541.1 1145.2,542.6 1147.0,542.6 1148.8,544.9 1150.5,545.3 1152.2,546.1 1154.0,547.5 1155.8,547.9 1157.5,548.1 1159.2,549.0 1161.0,549.7 1162.8,550.3 1164.5,552.4 1166.2,553.4 1168.0,553.4 1169.8,554.0 1171.5,555.6 1173.2,556.8 1175.0,557.8 1176.8,557.5 1178.5,559.3 1180.2,560.2 1182.0,561.0" stroke="#0000ff" marker-start="url(#mb)" marker-mid="url(#mb)" marker-end="url(#mb)"/>
<polyline points="312.2,103.7 314.0,89.0 314.9,86.2 315.8,83.4 317.5,76.3 318.4,74.7 319.2,73.1 320.1,71.6 321.0,70.1 321.9,68.7 322.8,67.4 323.6,67.7 324.5,68.0 325.4,68.0 326.2,67.9 327.1,67.8 328.0,67.6 328.9,67.4 329.8,67.1 330.6,67.0 331.5,67.0 332.4,67.1 333.2,67.3 334.1,67.9 335.0,68.4 335.9,67.9 336.8,67.3 338.5,67.4 339.4,67.5 340.2,67.5 341.1,67.3 342.0,67.1 342.9,68.0 343.8,68.9 345.5,66.9 346.4,67.6 347.2,68.2 348.1,69.5 349.0,70.8 349.9,71.1 350.8,71.4 351.6,72.7 352.5,74.0 353.4,74.7 354.2,75.4 356.0,77.1 356.9,78.0 357.8,78.9 358.6,79.8 359.5,80.7 360.4,82.4 361.2,84.1 362.1,85.0 363.0,85.9 363.9,87.0 364.8,88.0 365.6,88.2 366.5,88.3 367.4,89.9 368.2,91.5 369.1,92.1 370.0,92.6 370.9,93.4 371.8,94.2 372.6,94.6 373.5,94.9 374.4,95.1 375.2,95.4 376.1,96.5 377.0,97.6 377.9,97.1 378.8,96.6 379.6,97.8 380.5,99.0 381.4,99.5 382.2,100.1 383.1,100.2 384.0,100.3 384.9,100.9 385.8,101.4 386.6,102.3 387.5,103.1 388.4,102.8 389.2,102.5 390.1,103.4 391.0,104.2 391.9,104.8 392.8,105.4 393.6,105.4 394.5,105.5 395.4,106.3 396.2,107.1 398.0,107.4 398.9,108.0 399.8,108.6 400.6,109.1 401.5,109.7 402.4,110.2 403.2,110.7 404.1,110.8 405.0,110.9 405.9,111.7 406.8,112.4 407.6,112.8 408.5,113.2 409.4,113.3 410.2,113.4 411.1,114.4 412.0,115.4 412.9,115.7 413.8,116.0 414.6,117.2 415.5,118.5 416.4,118.6 417.2,118.8 418.1,119.7 419.0,120.5 420.8,121.3 421.6,121.9 422.5,122.5 423.4,122.8 424.2,123.2 425.1,123.7 426.0,124.2 426.9,125.6 427.8,127.0 428.6,127.2 429.5,127.4 430.4,128.1 431.2,128.7 432.1,129.3 433.0,129.9 433.9,130.8 434.8,131.7 435.6,131.7 436.5,131.7 437.4,132.3 438.2,132.8 439.1,134.1 440.0,135.3 440.9,135.6 441.8,135.8 442.6,136.6 443.5,137.4 444.4,138.2 445.2,139.0 447.0,140.4 447.9,140.9 448.8,141.5 449.6,141.3 450.5,141.1 451.4,141.9 452.2,142.7 453.1,143.6 454.0,144.5 454.9,145.0 455.8,145.5 456.6,145.2 457.5,145.0 458.4,145.5 459.2,146.0 460.1,146.6 461.0,147.2 461.9,147.5 462.8,147.8 463.6,148.5 464.5,149.3 465.4,150.2 466.2,151.1 467.1,151.3 468.0,151.5 468.9,151.9 469.8,152.3 470.6,152.4 471.5,152.5 472.4,153.3 473.2,154.0 474.1,155.1 475.0,156.2 475.9,156.4 476.8,156.5 477.6,156.8 478.5,157.0 479.4,157.5 480.2,158.0 481.1,158.8 482.0,159.6 482.9,160.0 483.8,160.4 484.6,160.3 485.5,160.2 486.4,161.2 487.2,162.2 489.0,162.5 490.8,163.7 491.6,163.9 492.5,164.1 493.4,164.7 494.2,165.3 495.1,165.8 496.0,166.2 496.9,166.7 497.8,167.2 498.6,167.3 499.5,167.4 500.4,168.1 501.2,168.7 502.1,169.6 503.0,170.4 504.8,170.3 505.6,170.9 506.5,171.5 507.4,172.5 508.2,173.6 509.1,173.6 510.0,173.6 510.9,174.1 511.8,174.6 512.6,175.1 513.5,175.5 514.4,176.5 515.2,177.6 517.0,177.1 517.9,178.1 518.8,179.2 519.6,179.9 520.5,180.6 522.2,180.2 523.1,180.9 524.0,181.6 524.9,182.5 525.8,183.4 526.6,183.7 527.5,184.0 528.4,184.2 529.2,184.5 531.0,184.8 531.9,185.7 532.8,186.5 533.6,187.0 534.5,187.4 535.4,188.2 536.2,189.0 537.1,189.1 538.0,189.2 538.9,189.8 539.8,190.4 540.6,191.1 541.5,191.8 542.4,192.5 543.2,193.1 545.0,193.2 545.9,193.7 546.8,194.2 547.6,194.9 548.5,195.6 549.4,196.4 550.2,197.2 551.1,197.0 552.0,196.7 552.9,198.0 553.8,199.3 554.6,199.5 555.5,199.7 556.4,199.9 557.2,200.0 558.1,200.8 559.0,201.6 559.9,201.7 560.8,201.9 561.6,202.1 562.5,202.3 563.4,203.5 564.2,204.7 565.1,204.8 566.0,204.9 566.9,205.5 567.8,206.1 568.6,206.6 569.5,207.1 570.4,207.9 571.2,208.8 572.1,209.2 573.0,209.5 573.9,209.2 574.8,208.8 575.6,209.8 576.5,210.8 577.4,211.0 578.2,211.3 579.1,211.7 580.0,212.1 580.9,212.9 581.8,213.6 582.6,213.6 583.5,213.6 584.4,214.0 585.2,214.5 586.1,215.3 587.0,216.1 587.9,216.1 588.8,216.0 589.6,216.5 590.5,216.9 591.4,217.3 592.2,217.7 593.1,218.4 594.0,219.1 594.9,219.4 595.8,219.6 596.6,220.1 597.5,220.6 598.4,220.6 599.2,220.7 600.1,220.7 601.0,220.7 601.9,221.8 602.8,222.8 603.6,223.1 604.5,223.4 605.4,224.0 606.2,224.6 607.1,225.0 608.0,225.4 608.9,225.1 609.8,224.9 610.6,225.4 611.5,225.9 612.4,226.1 613.2,226.4 615.0,228.6 615.9,228.3 616.8,228.0 617.6,228.4 618.5,228.8 620.2,230.9 621.1,231.1 622.0,231.3 622.9,231.2 623.8,231.1 624.6,232.1 625.5,233.1 626.4,233.5 627.2,234.0 628.1,234.1 629.0,234.3 629.9,234.3 630.8,234.2 631.6,235.3 632.5,236.3 633.4,236.4 634.2,236.5 635.1,237.1 636.0,237.7 637.8,239.3 638.6,239.5 639.5,239.7 640.4,240.2 641.2,240.6 642.1,240.3 643.0,240.0 643.9,240.5 644.8,241.1 645.6,241.7 646.5,242.3 647.4,242.2 648.2,242.1 649.1,243.4 650.0,244.8 650.9,244.5 651.8,244.2 653.5,244.9 654.4,245.4 655.2,245.8 657.0,220.5 658.8,248.4 659.6,248.4 660.5,248.4 661.4,248.7 662.2,249.0 663.1,249.2 664.0,249.4 664.9,249.4 665.8,249.3 666.6,249.9 667.5,250.5 668.4,251.4 669.2,252.2 670.1,252.5 671.0,252.8 671.9,253.1 672.8,253.5 673.6,253.2 674.5,253.0 675.4,253.2 676.2,253.5 677.1,253.7 678.0,253.8 678.9,254.7 679.8,255.5 680.6,255.6 681.5,255.8 682.4,256.2 683.2,256.6 684.1,257.0 685.0,257.3 685.9,257.7 686.8,258.1 687.6,258.2 688.5,258.3 689.4,259.1 690.2,259.9 691.1,259.6 692.0,259.3 692.9,260.3 693.8,261.4 694.6,261.3 695.5,261.3 696.4,261.1 697.2,260.9 699.0,262.1 699.9,262.7 700.8,263.2 701.6,263.4 702.5,263.6 703.4,264.1 704.2,264.5 705.1,264.6 706.0,264.7 706.9,265.0 707.8,265.3 708.6,266.1 709.5,266.9 711.2,266.6 712.1,267.3 713.0,268.1 713.9,268.5 714.8,268.9 715.6,269.0 716.5,269.1 717.4,269.3 718.2,269.5 719.1,270.3 720.0,271.1 721.8,270.8 722.6,271.5 723.5,272.3 724.4,271.8 725.2,271.3 727.0,272.7 727.9,273.2 728.8,273.7 729.6,273.5 730.5,273.2 731.4,274.3 732.2,275.5 733.1,275.0 734.0,274.5 734.9,275.4 735.8,276.2 736.6,276.1 737.5,276.0 738.4,277.1 739.2,278.2 740.1,278.1 741.0,278.1 741.9,278.7 742.8,279.2 743.6,279.2 744.5,279.3 745.4,279.8 746.2,280.3 747.1,280.6 748.0,280.9 748.9,280.8 749.8,280.8 750.6,281.0 751.5,281.3 752.4,282.2 753.2,283.2 754.1,282.8 755.0,282.4 756.8,284.6 757.6,284.2 758.5,283.8 759.4,284.0 760.2,284.3 761.1,284.6 762.0,284.9 762.9,285.9 763.8,286.9 764.6,287.4 765.5,287.9 766.4,287.7 767.2,287.5 768.1,288.1 769.0,288.7 769.9,288.7 770.8,288.6 771.6,289.6 772.5,290.6 774.2,290.9 775.1,290.7 776.0,290.5 776.9,290.7 777.8,291.0 778.6,292.0 779.5,293.0 780.4,292.7 781.2,292.4 782.1,293.5 783.0,294.6 783.9,294.4 784.8,294.3 785.6,294.5 786.5,294.8 787.4,295.5 788.2,296.2 789.1,296.3 790.0,296.4 790.9,297.0 791.8,297.6 792.6,297.5 793.5,297.5 794.4,298.6 795.2,299.7 796.1,299.4 797.0,299.2 797.9,300.1 798.8,300.9 799.6,300.6 800.5,300.2 801.4,301.2 802.2,302.2 803.1,302.8 804.0,303.3 804.9,303.1 805.8,302.8 806.6,302.8 807.5,302.8 808.4,303.5 809.2,304.2 810.1,304.8 811.0,305.4 812.8,305.3 813.6,305.9 814.5,306.6 815.4,306.5 816.2,306.4 817.1,307.1 818.0,307.8 818.9,308.5 819.8,309.1 820.6,309.1 821.5,309.2 823.2,291.0 825.0,310.0 825.9,311.0 826.8,312.1 827.6,311.8 828.5,311.5 830.2,313.8 831.1,314.2 832.0,314.7 832.9,315.0 833.8,315.3 834.6,315.3 835.5,315.2 836.4,315.3 837.2,315.5 838.1,315.9 839.0,316.3 840.8,317.9 841.6,318.0 842.5,318.1 843.4,318.9 844.2,319.7 845.1,319.2 846.0,318.8 846.9,319.5 847.8,320.3 848.6,321.0 849.5,321.8 850.4,321.9 851.2,322.0 852.1,322.3 853.0,322.6 854.8,322.4 855.6,322.9 856.5,323.3 857.4,323.8 858.2,324.3 859.1,325.3 860.0,326.3 860.9,326.6 861.8,326.9 862.6,326.7 863.5,326.4 864.4,327.5 865.2,328.5 866.1,328.0 867.0,327.5 867.9,328.4 868.8,329.4 869.6,330.1 870.5,330.8 871.4,330.6 872.2,330.3 873.1,331.3 874.0,332.3 874.9,332.3 875.8,332.4 876.6,332.2 877.5,331.9 878.4,332.6 879.2,333.2 880.1,333.7 881.0,334.2 881.9,334.4 882.8,334.5 884.5,336.3 885.4,336.1 886.2,335.9 887.1,336.9 888.0,337.8 888.9,337.7 889.8,337.6 890.6,337.7 891.5,337.9 892.4,338.7 893.2,339.6 894.1,339.5 895.0,339.4 895.9,340.2 896.8,341.1 898.5,342.3 899.4,342.4 900.2,342.6 901.1,342.8 902.0,343.1 902.9,343.0 903.8,343.0 904.6,343.8 905.5,344.7 906.4,344.6 907.2,344.6 908.1,345.5 909.0,346.4 909.9,346.3 910.8,346.1 911.6,346.9 912.5,347.7 913.4,347.9 914.2,348.0 915.1,348.4 916.0,348.8 916.9,349.5 917.8,350.1 918.6,350.0 919.5,349.9 920.4,350.2 921.2,350.6 922.1,351.7 923.0,352.9 924.8,390.7 925.6,391.6 926.5,392.6 927.4,393.1 928.2,393.6 929.1,393.7 930.0,393.7 930.9,393.9 931.8,394.0 932.6,394.4 933.5,394.8 934.4,396.1 935.2,397.3 936.1,397.0 937.0,396.7 937.9,397.6 938.8,398.4 939.6,398.9 940.5,399.4 941.4,399.4 942.2,399.5 943.1,400.3 944.0,401.1 944.9,401.3 945.8,401.4 947.5,403.1 948.4,403.5 949.2,404.0 950.1,404.3 951.0,404.6 951.9,404.9 952.8,405.2 953.6,405.9 954.5,406.5 955.4,406.8 956.2,407.1 957.1,407.4 958.0,407.8 958.9,408.4 959.8,409.0 960.6,410.1 961.5,411.2 962.4,411.3 963.2,411.4 965.0,413.1 965.9,412.6 966.8,412.2 967.6,413.6 968.5,415.0 969.4,415.0 970.2,415.0 971.1,415.8 972.0,416.6 972.9,416.8 973.8,417.0 974.6,417.6 975.5,418.2 976.4,418.2 977.2,418.2 978.1,419.2 979.0,420.2 980.8,448.6 982.5,421.1 983.4,421.3 984.2,421.5 985.1,422.3 986.0,423.2 986.9,423.7 987.8,424.3 988.6,424.6 989.5,424.8 990.4,425.9 991.2,426.9 992.1,426.6 993.0,426.2 993.9,427.2 994.8,428.2 995.6,428.3 996.5,428.4 997.4,429.2 998.2,430.0 999.1,430.7 1000.0,431.3 1000.9,431.7 1001.8,432.1 1002.6,431.9 1003.5,431.7 1004.4,432.4 1005.2,433.0 1006.1,433.9 1007.0,434.7 1008.8,436.4 1009.6,435.9 1010.5,435.4 1011.4,436.4 1012.2,437.5 1013.1,438.0 1014.0,438.6 1014.9,439.1 1015.8,439.7 1016.6,439.7 1017.5,439.7 1018.4,440.6 1019.2,441.6 1021.0,441.8 1021.9,442.7 1022.8,443.6 1023.6,443.2 1024.5,442.7 1026.2,469.0 1028.0,445.4 1028.9,445.9 1029.8,446.3 1030.6,446.5 1031.5,446.6 1032.4,447.2 1033.2,447.8 1034.1,448.8 1035.0,449.7 1035.9,450.2 1036.8,450.6 1037.6,450.5 1038.5,450.4 1039.4,451.1 1040.2,451.7 1041.1,452.0 1042.0,452.3 1042.9,452.8 1043.8,453.3 1044.6,453.8 1045.5,454.3 1046.4,454.8 1047.2,455.4 1048.1,456.5 1049.0,457.6 1049.9,458.1 1050.8,458.6 1051.6,458.9 1052.5,459.1 1053.4,459.3 1054.2,459.4 1055.1,459.9 1056.0,460.4 1057.8,461.9 1058.6,462.4 1059.5,463.0 1060.4,463.3 1061.2,463.7 1063.0,464.3 1063.9,464.4 1064.8,464.4 1065.6,465.3 1066.5,466.2 1067.4,466.9 1068.2,467.5 1070.0,468.3 1071.8,467.9 1072.6,469.0 1073.5,470.1 1074.4,470.2 1075.2,470.2 1076.1,470.5 1077.0,470.8 1077.9,472.1 1078.8,473.3 1079.6,473.5 1080.5,473.7 1081.4,474.2 1082.2,474.7 1083.1,474.6 1084.0,474.4 1084.9,475.6 1085.8,476.8 1086.6,477.3 1087.5,477.9 1088.4,478.3 1089.2,478.8 1090.1,479.1 1091.0,479.4 1091.9,479.9 1092.8,480.5 1093.6,480.9 1094.5,481.3 1095.4,481.6 1096.2,481.8 1097.1,482.1 1098.0,482.4 1098.9,483.3 1099.8,484.2 1100.6,484.6 1101.5,485.0 1102.4,485.5 1103.2,486.1 1104.1,486.0 1105.0,485.9 1105.9,487.0 1106.8,488.1 1107.6,488.2 1108.5,488.2 1109.4,489.1 1110.2,489.9 1111.1,489.6 1112.0,489.2 1113.8,491.8 1114.6,492.1 1115.5,492.4 1116.4,492.3 1117.2,492.3 1118.1,493.3 1119.0,494.4 1119.9,494.2 1120.8,494.1 1121.6,494.5 1122.5,494.9 1123.4,495.6 1124.2,496.4 1125.1,496.6 1126.0,496.8 1126.9,497.6 1127.8,498.3 1128.6,499.2 1129.5,500.0 1130.4,500.3 1131.2,500.5 1132.1,501.0 1133.0,501.5 1134.8,501.8 1135.6,502.6 1136.5,503.5 1137.4,504.0 1138.2,504.4 1140.0,505.1 1140.9,505.9 1141.8,506.6 1142.6,506.9 1143.5,507.3 1144.4,507.3 1145.2,507.4 1146.1,507.5 1147.0,507.6 1147.9,508.7 1148.8,509.7 1149.6,510.4 1150.5,511.0 1151.4,511.0 1152.2,510.9 1153.1,511.6 1154.0,512.4 1154.9,513.1 1155.8,513.8 1156.6,514.2 1157.5,514.6 1159.2,514.0 1160.1,514.9 1161.0,515.9 1161.9,515.8 1162.8,515.8 1163.6,516.4 1164.5,516.9 1165.4,518.1 1166.2,519.3 1167.1,519.3 1168.0,519.4 1168.9,520.1 1169.8,520.7" stroke="#ff0000" marker-start="url(#mr)" marker-mid="url(#mr)" marker-end="url(#mr)"/>
<polyline points="312.2,107.9 314.0,93.6 315.8,86.3 316.6,83.0 317.5,79.6 318.4,78.7 319.2,77.8 320.1,76.1 321.0,74.3 321.9,72.4 322.8,70.5 324.5,70.2 325.4,70.4 326.2,70.7 327.1,71.3 328.0,71.9 328.9,71.7 329.8,71.4 331.5,72.1 332.4,72.3 333.2,72.6 334.1,71.8 335.0,71.1 335.9,71.8 336.8,72.6 337.6,71.9 338.5,71.2 339.4,72.2 340.2,73.2 341.1,72.5 342.0,71.8 342.9,72.0 343.8,72.2 344.6,73.1 345.5,74.0 346.4,73.3 347.2,72.7 349.0,74.4 349.9,76.3 350.8,78.1 351.6,78.8 352.5,79.5 353.4,80.9 354.2,82.3 355.1,82.7 356.0,83.1 356.9,84.3 357.8,85.5 358.6,87.0 359.5,88.6 360.4,89.1 361.2,89.6 362.1,91.2 363.0,92.9 363.9,92.9 364.8,93.0 365.6,94.8 366.5,96.6 367.4,96.9 368.2,97.1 369.1,98.6 370.0,100.1 370.9,100.0 371.8,99.8 372.6,100.6 373.5,101.3 374.4,102.8 375.2,104.2 376.1,104.1 377.0,104.1 377.9,105.0 378.8,106.0 379.6,105.8 380.5,105.7 381.4,106.3 382.2,106.9 384.0,107.4 384.9,108.5 385.8,109.5 386.6,110.4 387.5,111.3 388.4,111.4 389.2,111.5 390.1,111.9 391.0,112.2 391.9,113.4 392.8,114.6 393.6,115.1 394.5,115.6 396.2,116.1 397.1,115.9 398.0,115.7 399.8,118.0 400.6,118.3 401.5,118.6 402.4,119.8 403.2,120.9 404.1,120.7 405.0,120.5 405.9,121.4 406.8,122.3 407.6,122.8 408.5,123.3 409.4,123.5 410.2,123.7 411.1,124.6 412.0,125.4 412.9,126.3 413.8,127.2 415.5,129.2 416.4,129.4 417.2,129.6 418.1,130.1 419.0,130.6 419.9,132.1 420.8,133.5 421.6,133.1 422.5,132.7 423.4,134.3 424.2,135.9 425.1,136.4 426.0,137.0 427.8,138.1 428.6,138.6 429.5,139.2 430.4,140.2 431.2,141.3 432.1,142.2 433.0,143.0 433.9,143.5 434.8,144.0 435.6,144.7 436.5,145.5 437.4,145.3 438.2,145.1 439.1,146.2 440.0,147.2 440.9,147.7 441.8,148.2 443.5,151.5 444.4,152.1 445.2,152.8 446.1,152.6 447.0,152.4 447.9,153.6 448.8,154.8 449.6,155.5 450.5,156.2 451.4,156.0 452.2,155.8 453.1,156.7 454.0,157.6 454.9,158.5 455.8,159.3 456.6,159.7 457.5,160.0 458.4,160.0 459.2,160.0 460.1,161.1 461.0,162.1 462.8,161.9 463.6,162.7 464.5,163.4 465.4,163.7 466.2,164.0 467.1,165.2 468.0,166.3 468.9,166.4 469.8,166.4 470.6,167.1 471.5,167.7 472.4,168.0 473.2,168.3 474.1,168.4 475.0,168.5 475.9,169.7 476.8,170.8 477.6,171.0 478.5,171.1 479.4,171.6 480.2,172.0 481.1,172.0 482.0,171.9 482.9,172.2 483.8,172.6 485.5,174.5 486.4,175.2 487.2,176.0 488.1,176.4 489.0,176.8 489.9,176.7 490.8,176.7 491.6,176.9 492.5,177.1 493.4,178.0 494.2,178.9 495.1,179.8 496.0,180.7 496.9,180.3 497.8,179.9 498.6,181.0 499.5,182.2 501.2,181.7 503.0,183.0 503.9,183.1 504.8,183.3 505.6,184.0 506.5,184.8 507.4,185.3 508.2,185.9 509.1,187.0 510.0,188.2 510.9,188.7 511.8,189.1 512.6,188.7 513.5,188.2 515.2,189.4 516.1,190.7 517.0,191.9 517.9,191.5 518.8,191.0 519.6,191.7 520.5,192.3 521.4,192.9 522.2,193.5 523.1,193.6 524.0,193.7 524.9,194.3 525.8,195.0 526.6,195.6 527.5,196.2 528.4,196.7 529.2,197.2 530.1,198.3 531.0,199.5 532.8,198.8 533.6,199.2 534.5,199.5 535.4,200.9 536.2,202.2 537.1,202.1 538.0,202.0 538.9,203.0 539.8,203.9 540.6,204.1 541.5,204.4 543.2,205.6 544.1,205.6 545.0,205.5 545.9,205.7 546.8,206.0 547.6,207.2 548.5,208.4 549.4,208.5 550.2,208.7 551.1,209.2 552.0,209.8 552.9,210.4 553.8,211.0 554.6,211.6 555.5,212.2 556.4,212.1 557.2,212.0 558.1,212.6 559.0,213.1 559.9,214.3 560.8,215.4 562.5,215.4 563.4,215.6 564.2,215.8 565.1,216.7 566.0,217.5 566.9,217.6 567.8,217.6 568.6,218.7 569.5,219.8 570.4,219.4 571.2,219.0 572.1,220.4 573.0,221.8 573.9,221.9 574.8,222.0 575.6,222.1 576.5,222.3 577.4,223.4 578.2,224.5 579.1,224.1 580.0,223.7 580.9,224.1 581.8,224.4 582.6,224.6 583.5,224.8 584.4,225.8 585.2,226.8 586.1,227.5 587.0,228.1 588.8,228.7 589.6,228.8 590.5,228.9 591.4,229.8 592.2,230.7 593.1,230.2 594.0,229.8 595.8,231.1 596.6,231.9 597.5,232.7 598.4,233.5 599.2,234.3 601.0,234.3 601.9,234.8 602.8,235.3 604.5,236.3 605.4,236.2 606.2,236.2 608.0,238.3 608.9,238.5 609.8,238.6 610.6,238.6 611.5,238.5 613.2,239.4 614.1,240.3 615.0,241.2 615.9,241.1 616.8,241.0 618.5,241.4 619.4,242.6 620.2,243.8 621.1,243.8 622.0,243.8 622.9,244.2 623.8,244.6 624.6,245.2 625.5,245.8 626.4,246.5 627.2,247.2 628.1,246.6 629.0,246.1 629.9,246.8 630.8,247.4 631.6,247.5 632.5,247.6 633.4,248.4 634.2,249.2 635.1,249.7 636.0,250.3 636.9,251.1 637.8,251.9 638.6,252.1 639.5,252.3 640.4,252.6 641.2,252.9 642.1,253.1 643.0,253.3 643.9,253.9 644.8,254.5 645.6,254.5 646.5,254.6 647.4,255.7 648.2,256.8 649.1,257.1 650.0,257.4 650.9,257.9 651.8,258.4 653.5,257.5 654.4,258.6 655.2,259.6 656.1,260.1 657.0,260.6 658.8,260.7 659.6,261.5 660.5,262.3 661.4,262.7 662.2,263.0 663.1,263.1 664.0,263.3 664.9,263.7 665.8,264.2 666.6,264.3 667.5,264.4 668.4,265.0 669.2,265.7 670.1,265.1 671.0,264.5 672.8,266.6 674.5,267.3 675.4,267.5 676.2,267.7 677.1,267.7 678.0,267.6 678.9,267.7 679.8,267.8 680.6,268.7 681.5,269.7 682.4,270.3 683.2,270.9 684.1,270.6 685.0,270.3 685.9,270.6 686.8,270.8 687.6,271.2 688.5,271.5 689.4,271.7 690.2,271.9 691.1,272.9 692.0,274.0 693.8,275.4 694.6,275.5 695.5,275.6 696.4,275.4 697.2,275.2 698.1,276.0 699.0,276.7 699.9,276.3 700.8,275.9 701.6,277.2 702.5,278.4 703.4,278.1 704.2,277.9 705.1,277.8 706.0,277.8 706.9,278.9 707.8,280.0 708.6,279.7 709.5,279.5 710.4,280.0 711.2,280.5 712.1,280.5 713.0,280.6 713.9,281.4 714.8,282.2 715.6,282.7 716.5,283.2 718.2,284.4 719.1,283.9 720.0,283.3 721.8,285.9 722.6,285.3 723.5,284.8 724.4,285.3 725.2,285.8 726.1,286.6 727.0,287.4 727.9,287.4 728.8,287.4 729.6,287.7 730.5,288.0 731.4,288.7 732.2,289.3 733.1,289.2 734.0,289.1 734.9,290.2 735.8,291.2 736.6,290.8 737.5,290.5 739.2,292.7 740.1,293.0 741.0,293.3 742.8,293.3 743.6,293.0 744.5,292.7 745.4,294.0 746.2,295.2 747.1,294.7 748.0,294.1 748.9,295.0 749.8,295.9 750.6,296.2 751.5,296.4 752.4,296.3 753.2,296.2 754.1,297.2 755.0,298.2 755.9,298.7 756.8,299.2 757.6,299.3 758.5,299.5 759.4,299.6 760.2,299.7 761.1,300.2 762.0,300.7 762.9,301.1 763.8,301.5 764.6,301.4 765.5,301.3 767.2,303.6 769.0,304.6 769.9,304.7 770.8,304.8 771.6,305.4 772.5,305.9 773.4,305.5 774.2,305.1 775.1,306.2 776.0,307.3 776.9,306.6 777.8,305.9 778.6,306.7 779.5,307.5 780.4,307.5 781.2,307.4 782.1,308.1 783.0,308.9 783.9,309.5 784.8,310.1 785.6,310.5 786.5,310.9 787.4,310.9 788.2,311.0 789.1,311.2 790.0,311.4 790.9,311.5 791.8,311.7 793.5,312.9 794.4,313.1 795.2,313.3 796.1,313.6 797.0,313.8 797.9,314.8 798.8,315.8 799.6,315.9 800.5,316.0 801.4,316.2 802.2,316.5 803.1,316.5 804.0,316.6 804.9,317.6 805.8,318.5 806.6,318.3 807.5,318.0 808.4,318.4 809.2,318.9 811.0,320.3 811.9,320.8 812.8,321.3 814.5,322.7 816.2,322.8 817.1,323.4 818.0,324.0 818.9,324.3 819.8,324.6 820.6,324.7 821.5,324.8 822.4,325.2 823.2,325.5 824.1,325.1 825.0,324.6 825.9,325.1 826.8,325.6 827.6,325.8 828.5,325.9 829.4,327.2 830.2,328.6 831.1,328.8 832.0,328.9 832.9,329.2 833.8,329.4 834.6,329.3 835.5,329.2 836.4,329.6 837.2,330.1 838.1,330.2 839.0,330.3 839.9,331.2 840.8,332.1 841.6,332.9 842.5,333.6 843.4,333.2 844.2,332.7 845.1,332.7 846.0,332.7 846.9,333.2 847.8,333.7 848.6,334.3 849.5,334.8 850.4,335.8 851.2,336.8 852.1,337.0 853.0,337.3 853.9,337.2 854.8,337.1 855.6,337.0 856.5,336.9 857.4,337.3 858.2,337.6 859.1,338.0 860.0,338.4 860.9,339.5 861.8,340.6 862.6,340.6 863.5,340.5 864.4,341.5 865.2,342.4 866.1,342.7 867.0,342.9 867.9,343.1 868.8,343.3 869.6,343.3 870.5,343.2 871.4,344.0 872.2,344.8 873.1,344.3 874.0,343.8 874.9,344.1 875.8,344.4 877.5,346.2 878.4,346.4 879.2,346.7 880.1,346.7 881.0,346.7 881.9,347.1 882.8,347.5 883.6,347.5 884.5,347.6 885.4,349.0 886.2,350.4 887.1,350.5 888.0,350.6 888.9,351.2 889.8,351.8 890.6,352.2 891.5,352.6 892.4,352.3 893.2,352.0 894.1,352.7 895.0,353.4 895.9,353.3 896.8,353.2 897.6,354.0 898.5,354.9 899.4,355.3 900.2,355.6 901.1,355.1 902.0,354.6 902.9,354.8 903.8,355.0 904.6,355.6 905.5,356.2 906.4,357.0 907.2,357.7 908.1,357.8 909.0,357.9 909.9,357.8 910.8,357.7 911.6,359.0 912.5,360.4 913.4,360.7 914.2,360.9 915.1,360.9 916.0,360.8 916.9,360.7 917.8,360.5 918.6,361.9 919.5,363.2 920.4,363.1 921.2,363.0 922.1,362.8 923.0,362.6 923.9,363.3 924.8,363.9 925.6,364.6 926.5,365.3 928.2,525.9 929.1,525.9 930.0,526.0 930.9,526.6 931.8,527.3 932.6,527.3 933.5,527.3 934.4,527.8 935.2,528.4 937.0,531.0 937.9,530.8 938.8,530.7 939.6,530.9 940.5,531.0 941.4,532.1 942.2,533.2 943.1,533.2 944.0,533.1 944.9,533.7 945.8,534.3 946.6,535.1 947.5,535.9 948.4,536.6 949.2,537.2 950.1,537.8 951.0,538.3 951.9,538.9 952.8,539.5 953.6,539.7 954.5,539.9 955.4,539.9 956.2,540.0 957.1,541.3 958.0,542.5 959.8,541.9 960.6,542.9 961.5,543.9 962.4,544.3 963.2,544.8 964.1,545.3 965.0,545.9 965.9,546.2 966.8,546.5 967.6,546.2 968.5,545.9 969.4,546.7 970.2,547.4 972.0,600.0 973.8,545.0 974.6,546.4 975.5,547.8 976.4,548.9 977.2,550.1 978.1,550.0 979.0,549.9 979.9,549.5 980.8,549.1 981.6,549.6 982.5,550.1 984.2,552.4 985.1,551.7 986.0,551.1 986.9,551.5 987.8,552.0 989.5,553.4 990.4,553.7 991.2,554.0 992.1,554.1 993.0,554.1 993.9,554.5 994.8,554.9 995.6,554.3 996.5,553.7 997.4,554.0 998.2,554.3 999.1,555.7 1000.0,557.0 1000.9,557.0 1001.8,557.1 1002.6,556.4 1003.5,555.8 1004.4,556.0 1005.2,556.3 1006.1,556.8 1007.0,557.3 1007.9,558.4 1008.8,559.5 1009.6,558.9 1010.5,558.3 1011.4,559.1 1012.2,559.9 1013.1,560.4 1014.0,561.0 1014.9,560.9 1015.8,560.8 1016.6,561.4 1017.5,562.0 1018.4,561.7 1019.2,561.4 1020.1,561.8 1021.0,562.2 1021.9,562.5 1022.8,562.8 1023.6,564.2 1024.5,565.6 1025.4,565.3 1026.2,565.0 1028.0,568.1 1029.8,568.5 1030.6,568.4 1031.5,568.2 1032.4,569.5 1033.2,570.7 1035.0,570.2 1035.9,571.1 1036.8,572.0 1037.6,572.0 1038.5,572.1 1039.4,573.4 1040.2,574.7 1042.0,560.0 1043.8,577.0 1044.6,576.4 1045.5,575.8 1046.4,577.3 1047.2,578.8 1048.1,579.0 1049.0,579.1 1049.9,580.0 1050.8,580.8 1051.6,580.9 1052.5,581.0 1053.4,581.6 1054.2,582.3 1055.1,582.8 1056.0,583.2 1056.9,584.0 1057.8,584.7 1058.6,584.4 1059.5,584.0 1061.2,584.9 1062.1,586.0 1063.0,587.1 1064.8,587.5 1065.6,588.1 1066.5,588.8 1067.4,588.8 1068.2,588.8 1070.0,591.6 1071.8,590.9 1072.6,592.3 1073.5,593.8 1074.4,594.3 1075.2,594.7 1076.1,594.8 1077.0,594.9 1077.9,595.0 1078.8,595.1 1080.5,597.4 1081.4,597.3 1082.2,597.3 1084.0,598.8 1085.8,599.1 1086.6,600.6 1087.5,602.1 1088.4,602.1 1089.2,602.1 1090.1,602.4 1091.0,602.6 1091.9,602.8 1092.8,603.0 1093.6,604.3 1094.5,605.6 1095.4,606.6 1096.2,607.6 1097.1,608.5 1098.0,609.4 1098.9,609.4 1099.8,609.4 1100.6,610.6 1101.5,611.8 1102.4,612.6 1103.2,613.4 1104.1,614.9 1105.0,616.3 1105.9,616.4 1106.8,616.6 1108.5,712.6 1110.2,622.1 1111.1,622.1 1112.0,622.0 1113.8,620.5 1114.6,620.7 1115.5,621.0 1116.4,621.2 1117.2,621.4 1118.1,622.3 1119.0,623.1 1119.9,623.2 1120.8,623.3 1121.6,623.3 1122.5,623.4 1124.2,623.6 1125.1,623.7 1126.0,623.8 1126.9,624.2 1127.8,624.6 1128.6,624.8 1129.5,625.1 1130.4,625.5 1131.2,626.0 1132.1,626.0 1133.0,625.9 1133.9,626.2 1134.8,626.4 1135.6,626.7 1136.5,627.0 1137.4,627.1 1138.2,627.2 1139.1,627.2 1140.0,627.2 1141.8,625.9 1142.6,626.9 1143.5,627.8 1144.4,628.2 1145.2,628.6 1146.1,628.2 1147.0,627.9 1147.9,628.6 1148.8,629.3 1149.6,628.6 1150.5,628.0 1151.4,629.0 1152.2,630.1 1154.0,629.3 1154.9,629.7 1155.8,630.2 1157.5,629.5 1158.4,629.7 1159.2,629.9 1160.1,630.2 1161.0,630.4 1161.9,630.5 1162.8,630.7 1164.5,630.4 1166.2,631.6 1167.1,632.4 1168.0,633.2 1168.9,633.0 1169.8,632.8 1170.6,633.3 1171.5,633.8" stroke="#ff0000" marker-start="url(#mr)" marker-mid="url(#mr)" marker-end="url(#mr)"/>
<polyline points="308.8,128.4 310.5,123.2 312.2,118.1 314.0,112.4 315.8,109.6 317.5,107.6 319.2,105.9 321.0,103.2 322.8,103.2 324.5,104.0 326.2,103.7 328.0,102.4 329.8,84.8 331.5,102.4 333.2,102.6 335.0,102.5 336.8,102.1 338.5,101.4 340.2,102.5 342.0,101.7 343.8,102.2 345.5,83.8 347.2,102.1 349.0,102.7 350.8,101.5 352.5,102.2 354.2,102.5 356.0,102.4 357.8,103.1 359.5,102.4 361.2,103.2 363.0,103.0 364.8,103.5 366.5,102.2 368.2,102.5 370.0,102.7 371.8,104.2 373.5,103.4 375.2,104.3 377.0,105.6 378.8,106.6 380.5,105.9 382.2,106.9 384.0,107.8 385.8,82.4 387.5,109.0 389.2,109.6 391.0,109.4 392.8,110.0 394.5,110.2 396.2,111.8 398.0,111.6 399.8,112.2 401.5,113.9 403.2,114.0 405.0,114.5 406.8,115.1 408.5,115.6 410.2,116.3 412.0,116.4 413.8,116.8 415.5,117.5 417.2,118.2 419.0,119.4 420.8,100.8 422.5,120.5 424.2,121.9 426.0,123.4 427.8,123.6 429.5,123.7 431.2,125.2 433.0,125.0 434.8,125.6 436.5,126.7 438.2,128.0 440.0,129.6 441.8,130.4 443.5,132.0 445.2,113.1 447.0,134.6 448.8,134.8 450.5,136.8 452.2,136.6 454.0,139.1 455.8,139.3 457.5,141.4 459.2,142.5 461.0,143.4 462.8,144.0 464.5,144.7 466.2,146.1 468.0,148.4 469.8,148.4 471.5,150.3 473.2,151.4 475.0,152.6 476.8,153.0 478.5,154.1 480.2,155.2 482.0,157.8 483.8,158.2 485.5,160.0 487.2,161.3 489.0,162.2 490.8,163.3 492.5,164.6 494.2,167.4 496.0,167.6 497.8,170.3 499.5,170.8 501.2,172.4 503.0,172.5 504.8,174.5 506.5,174.7 508.2,175.9 510.0,177.2 511.8,177.6 513.5,178.8 515.2,180.7 517.0,180.9 518.8,182.1 520.5,183.7 522.2,183.9 524.0,184.9 525.8,185.9 527.5,187.2 529.2,188.2 531.0,189.7 532.8,190.4 534.5,192.1 536.2,191.8 538.0,193.8 539.8,195.1 541.5,195.2 543.2,195.9 545.0,197.6 546.8,198.1 548.5,199.6 550.2,201.1 552.0,201.1 553.8,183.2 555.5,203.8 557.2,204.3 559.0,205.4 560.8,206.8 562.5,207.3 564.2,208.2 566.0,209.7 567.8,210.9 569.5,212.7 571.2,213.2 573.0,213.6 574.8,215.0 576.5,216.9 578.2,217.8 580.0,219.4 581.8,220.7 583.5,221.6 585.2,221.6 587.0,224.0 588.8,224.5 590.5,225.2 592.2,226.2 594.0,228.5 595.8,228.5 597.5,229.5 599.2,230.9 601.0,233.1 602.8,233.5 604.5,235.0 606.2,235.1 608.0,236.9 609.8,237.8 611.5,238.7 613.2,240.6 615.0,241.2 616.8,242.0 618.5,244.5 620.2,244.8 622.0,245.5 623.8,246.4 625.5,248.5 627.2,249.4 629.0,249.8 630.8,251.6 632.5,253.2 634.2,254.0 636.0,254.6 637.8,256.2 639.5,257.5 641.2,258.7 643.0,259.0 644.8,261.2 646.5,262.6 648.2,263.4 650.0,264.7 651.8,265.1 653.5,267.0 655.2,267.0 657.0,268.2 658.8,270.0 660.5,271.6 662.2,271.4 664.0,272.7 665.8,273.6 667.5,275.4 669.2,276.0 671.0,277.2 672.8,279.3 674.5,280.1 676.2,281.8 678.0,282.1 679.8,283.7 681.5,283.8 683.2,286.4 685.0,286.4 686.8,287.9 688.5,289.1 690.2,290.9 692.0,291.3 693.8,293.3 695.5,293.8 697.2,294.3 699.0,296.4 700.8,296.5 702.5,299.0 704.2,299.3 706.0,300.1 707.8,302.5 709.5,302.6 711.2,304.0 713.0,305.1 714.8,306.8 716.5,306.9 718.2,308.7 720.0,309.5 721.8,311.8 723.5,311.6 725.2,313.8 727.0,314.4 728.8,315.9 730.5,317.3 732.2,318.7 734.0,319.0 735.8,320.3 737.5,321.3 739.2,323.8 741.0,323.7 742.8,324.9 744.5,326.7 746.2,328.0 748.0,329.7 749.8,329.5 751.5,331.0 753.2,332.1 755.0,333.9 756.8,334.9 758.5,336.0 760.2,338.0 762.0,338.8 763.8,340.3 765.5,341.6 767.2,341.7 769.0,344.0 770.8,344.3 772.5,344.9 774.2,347.5 776.0,347.4 777.8,348.4 779.5,350.1 781.2,351.3 783.0,353.5 784.8,354.6 786.5,355.0 788.2,356.4 790.0,358.1 791.8,359.2 793.5,360.1 795.2,361.1 797.0,361.7 798.8,363.1 800.5,364.9 802.2,366.0 804.0,367.5 805.8,368.8 807.5,370.1 809.2,370.1 811.0,371.1 812.8,373.6 814.5,374.3 816.2,374.8 818.0,376.8 819.8,377.3 821.5,378.5 823.2,379.9 825.0,381.3 826.8,382.7 828.5,383.0 830.2,385.2 832.0,386.2 833.8,387.2 835.5,388.7 837.2,390.1 839.0,390.0 840.8,391.9 842.5,393.4 844.2,394.7 846.0,395.7 847.8,396.2 849.5,398.6 851.2,399.5 853.0,399.8 854.8,401.3 856.5,403.4 858.2,403.3 860.0,404.9 861.8,406.9 863.5,408.0 865.2,408.2 867.0,410.2 868.8,410.7 870.5,412.4 872.2,413.8 874.0,414.0 875.8,415.3 877.5,416.5 879.2,417.8 881.0,418.6 882.8,419.9 884.5,421.6 886.2,422.8 888.0,423.4 889.8,425.4 891.5,427.2 893.2,427.8 895.0,428.7 896.8,430.4 898.5,431.2 900.2,432.0 902.0,433.6 903.8,434.1 905.5,436.3 907.2,436.7 909.0,438.2 910.8,440.4 912.5,441.3 914.2,442.6 916.0,443.4 917.8,444.6 919.5,445.9 921.2,447.6 923.0,447.5 924.8,449.8 926.5,450.3 928.2,451.6 930.0,453.8 931.8,454.8 933.5,456.6 935.2,457.9 937.0,458.8 938.8,459.5 940.5,460.6 942.2,462.7 944.0,464.4 945.8,465.0 947.5,466.0 949.2,467.2 951.0,563.5 952.8,565.9 954.5,566.4 956.2,568.4 958.0,570.0 959.8,572.4 961.5,574.4 963.2,574.5 965.0,576.2 966.8,579.1 968.5,580.8 970.2,581.1 972.0,583.0 973.8,584.9 975.5,586.2 977.2,587.9 979.0,589.6 980.8,590.9 982.5,592.2 984.2,593.8 986.0,595.5 987.8,597.0 989.5,599.5 991.2,601.2 993.0,602.1 994.8,604.6 996.5,606.1 998.2,607.1 1000.0,608.9 1001.8,610.0 1003.5,612.8 1005.2,613.8 1007.0,614.6 1008.8,616.4 1010.5,618.8 1012.2,620.0 1014.0,622.1 1015.8,622.9 1017.5,625.4 1019.2,627.0 1021.0,627.5 1022.8,629.9 1024.5,630.9 1026.2,633.3 1028.0,635.1 1029.8,636.7 1031.5,637.4 1033.2,638.7 1035.0,641.3 1036.8,642.6 1038.5,643.3 1040.2,644.8 1042.0,646.9 1043.8,647.6 1045.5,649.9 1047.2,650.7 1049.0,652.2 1050.8,653.9 1052.5,655.5 1054.2,657.3 1056.0,657.6 1057.8,660.2 1059.5,660.8 1061.2,662.4 1063.0,664.4 1064.8,665.9 1066.5,667.2 1068.2,669.1 1070.0,669.5 1071.8,671.1 1073.5,673.1 1075.2,673.9 1077.0,675.2 1078.8,676.7 1080.5,679.0 1082.2,680.6 1084.0,681.8 1085.8,683.7 1087.5,684.9 1089.2,685.5 1091.0,687.0 1092.8,689.1 1094.5,689.5 1096.2,691.8 1098.0,692.4 1099.8,693.8 1101.5,696.0 1103.2,696.9 1105.0,699.5 1106.8,700.9 1108.5,701.7 1110.2,702.7 1112.0,704.0 1113.8,706.1 1115.5,707.6 1117.2,708.8 1119.0,710.8 1120.8,711.9 1122.5,713.8 1124.2,714.1 1126.0,715.5 1127.8,717.5 1129.5,719.1 1131.2,720.2 1133.0,722.3 1134.8,769.6 1136.5,777.7 1138.2,782.0 1140.0,786.3 1141.8,742.4 1143.5,741.4 1145.2,741.1 1147.0,741.5 1148.8,741.2 1150.5,740.3 1152.2,739.1 1154.0,739.2 1155.8,739.1 1157.5,738.2 1159.2,737.4 1161.0,738.5 1162.8,738.0 1164.5,736.4 1166.2,737.4 1168.0,760.2 1169.8,764.7 1171.5,754.3 1173.2,745.4 1175.0,745.6 1176.8,745.2 1178.5,744.8 1180.2,745.4 1182.0,745.1 1183.8,746.6 1185.5,745.3" stroke="#00ff00" marker-start="url(#mg)" marker-mid="url(#mg)" marker-end="url(#mg)"/>
<polyline points="307.0,169.6 308.8,160.5 310.5,149.3 311.4,146.7 312.2,144.2 313.1,141.7 314.0,139.1 315.8,134.3 316.6,134.4 317.5,134.6 319.2,134.7 321.0,132.8 321.9,132.6 322.8,132.3 324.5,133.0 325.4,132.4 326.2,131.9 328.0,131.2 329.8,130.2 331.5,130.0 332.4,130.5 333.2,130.9 335.0,130.6 336.8,132.2 337.6,133.3 338.5,134.5 340.2,136.1 341.1,136.8 342.0,137.5 343.8,137.9 345.5,140.2 347.2,140.9 349.0,141.6 350.8,143.3 352.5,145.1 354.2,146.5 356.0,146.6 357.8,148.1 358.6,149.5 359.5,150.9 361.2,151.0 362.1,152.5 363.0,154.1 363.9,154.5 364.8,154.9 365.6,155.7 366.5,156.5 368.2,158.3 369.1,159.3 370.0,160.4 371.8,163.2 372.6,163.3 373.5,163.3 374.4,164.9 375.2,166.5 376.1,166.8 377.0,167.1 377.9,167.9 378.8,168.6 379.6,170.0 380.5,171.5 381.4,172.0 382.2,172.4 384.0,173.9 385.8,176.1 387.5,178.6 388.4,179.6 389.2,180.5 390.1,181.1 391.0,181.6 392.8,182.3 393.6,183.9 394.5,185.5 395.4,186.2 396.2,186.8 398.0,189.0 399.8,190.7 400.6,190.9 401.5,191.0 403.2,193.7 404.1,194.4 405.0,195.2 406.8,195.7 407.6,196.6 408.5,197.5 410.2,199.1 412.0,200.6 413.8,202.3 415.5,203.3 416.4,204.2 417.2,205.2 418.1,206.6 419.0,208.1 420.8,208.7 421.6,209.7 422.5,210.8 424.2,212.8 426.0,214.2 426.9,214.5 427.8,214.7 429.5,217.7 431.2,219.1 432.1,220.0 433.0,221.0 433.9,221.6 434.8,222.1 435.6,222.9 436.5,223.7 437.4,224.6 438.2,225.4 440.0,225.9 441.8,228.3 442.6,228.7 443.5,229.0 445.2,231.2 447.0,231.1 448.8,233.2 450.5,234.1 451.4,235.2 452.2,236.3 453.1,236.5 454.0,236.6 455.8,238.9 457.5,240.2 458.4,240.8 459.2,241.5 461.0,241.3 461.9,242.7 462.8,244.2 463.6,244.6 464.5,245.1 466.2,246.2 468.0,247.4 468.9,247.5 469.8,247.5 470.6,249.0 471.5,250.4 472.4,250.7 473.2,251.1 474.1,251.6 475.0,252.2 475.9,252.7 476.8,253.2 477.6,254.3 478.5,255.4 480.2,256.6 482.0,258.1 482.9,258.1 483.8,258.0 484.6,258.8 485.5,259.6 486.4,260.1 487.2,260.7 489.0,261.6 490.8,263.4 491.6,263.7 492.5,264.1 494.2,267.1 495.1,267.3 496.0,267.5 496.9,268.1 497.8,268.7 498.6,269.4 499.5,270.2 501.2,273.1 503.0,273.5 503.9,274.5 504.8,275.5 506.5,276.9 507.4,278.1 508.2,279.2 509.1,280.2 510.0,281.1 510.9,281.2 511.8,281.3 513.5,283.4 514.4,284.5 515.2,285.5 517.0,286.2 518.8,288.5 520.5,289.7 521.4,290.0 522.2,290.4 524.0,293.0 525.8,293.9 526.6,294.2 527.5,294.5 529.2,297.0 531.0,299.0 532.8,299.9 534.5,301.3 536.2,302.7 538.0,305.2 539.8,306.2 541.5,306.8 543.2,308.7 545.0,310.2 545.9,311.5 546.8,312.9 547.6,313.4 548.5,313.9 550.2,314.2 551.1,316.0 552.0,317.8 552.9,317.9 553.8,318.0 554.6,319.5 555.5,321.1 557.2,322.7 559.0,325.3 560.8,326.5 562.5,327.3 563.4,328.5 564.2,329.6 565.1,330.7 566.0,331.7 567.8,333.2 568.6,333.5 569.5,333.8 571.2,335.0 572.1,336.3 573.0,337.6 573.9,338.4 574.8,339.2 576.5,339.5 578.2,342.3 579.1,343.2 580.0,344.1 581.8,344.4 583.5,345.8 584.4,346.9 585.2,348.0 587.0,349.9 588.8,350.0 589.6,350.8 590.5,351.7 591.4,352.4 592.2,353.2 594.0,355.5 595.8,355.9 596.6,357.0 597.5,358.2 599.2,359.6 601.0,361.4 602.8,361.8 604.5,365.0 605.4,365.8 606.2,366.6 608.0,367.2 608.9,368.2 609.8,369.1 611.5,369.4 612.4,370.9 613.2,372.4 614.1,372.8 615.0,373.1 615.9,374.1 616.8,375.1 618.5,376.8 620.2,377.3 622.0,379.9 623.8,380.0 624.6,380.5 625.5,381.1 627.2,383.5 628.1,384.7 629.0,385.8 630.8,387.3 632.5,388.9 633.4,389.2 634.2,389.5 635.1,390.7 636.0,391.9 637.8,392.6 638.6,393.0 639.5,393.3 640.4,394.5 641.2,395.8 642.1,396.7 643.0,397.6 644.8,398.4 646.5,400.2 647.4,400.6 648.2,401.0 650.0,402.6 650.9,403.5 651.8,404.3 653.5,406.0 654.4,406.7 655.2,407.4 657.0,408.2 658.8,409.5 660.5,411.7 661.4,412.8 662.2,413.9 663.1,414.6 664.0,415.4 665.8,415.8 666.6,416.5 667.5,417.3 669.2,419.2 671.0,420.0 672.8,422.2 674.5,424.3 676.2,424.3 678.0,426.5 679.8,428.2 681.5,429.7 683.2,431.1 685.0,432.5 686.8,433.1 688.5,435.6 689.4,436.4 690.2,437.2 691.1,437.1 692.0,436.9 692.9,438.5 693.8,440.1 695.5,440.6 697.2,441.3 699.0,442.7 700.8,445.6 702.5,446.7 704.2,446.9 705.1,447.9 706.0,448.9 707.8,450.6 709.5,452.6 711.2,452.6 713.0,454.8 713.9,454.9 714.8,455.1 716.5,456.3 718.2,457.6 720.0,459.4 721.8,461.1 722.6,461.5 723.5,461.8 725.2,462.9 726.1,463.6 727.0,464.3 728.8,465.3 730.5,466.9 732.2,468.5 734.0,470.2 734.9,470.5 735.8,470.8 736.6,471.8 737.5,472.8 739.2,474.0 741.0,476.4 741.9,476.6 742.8,476.7 743.6,477.9 744.5,479.0 746.2,479.4 748.0,480.1 749.8,482.2 750.6,482.5 751.5,482.7 752.4,483.4 753.2,484.0 755.0,485.2 756.8,487.8 758.5,489.6 760.2,489.8 762.0,491.1 763.8,492.7 765.5,494.0 766.4,495.1 767.2,496.1 768.1,496.5 769.0,497.0 769.9,497.4 770.8,497.9 772.5,500.8 774.2,501.6 776.0,501.9 776.9,503.5 777.8,505.0 779.5,506.2 781.2,506.9 783.0,508.9 784.8,510.9 785.6,511.1 786.5,511.3 788.2,512.8 789.1,513.4 790.0,514.0 790.9,515.0 791.8,515.9 793.5,517.6 794.4,518.4 795.2,519.2 796.1,520.1 797.0,521.0 797.9,520.9 798.8,520.9 800.5,522.7 802.2,525.2 804.0,526.5 805.8,527.5 807.5,529.2 808.4,529.6 809.2,530.0 811.0,532.6 811.9,532.9 812.8,533.3 814.5,534.4 816.2,535.5 818.0,536.8 819.8,539.8 821.5,540.9 823.2,540.7 825.0,542.6 826.8,544.3 828.5,545.7 830.2,546.7 831.1,547.9 832.0,549.1 832.9,549.2 833.8,549.4 834.6,550.2 835.5,551.1 836.4,552.1 837.2,553.1 838.1,553.4 839.0,553.7 840.8,554.5 842.5,555.5 843.4,556.1 844.2,556.8 845.1,557.6 846.0,558.4 847.8,559.9 849.5,560.1 851.2,561.5 852.1,562.1 853.0,562.7 854.8,563.9 856.5,566.2 858.2,566.6 859.1,567.0 860.0,567.3 861.8,568.6 863.5,570.8 865.2,570.7 867.0,572.9 868.8,572.8 869.6,573.5 870.5,574.3 872.2,575.2 874.0,577.9 875.8,577.8 877.5,579.2 878.4,579.6 879.2,580.0 881.0,581.6 881.9,582.7 882.8,583.8 884.5,584.9 886.2,586.5 888.0,587.8 888.9,588.0 889.8,588.2 891.5,590.1 892.4,589.9 893.2,589.7 895.0,592.5 896.8,592.7 898.5,593.5 899.4,594.6 900.2,595.8 901.1,596.5 902.0,597.2 903.8,597.4 905.5,598.0 907.2,600.8 909.0,601.8 910.8,602.6 912.5,604.6 914.2,603.9 916.0,605.1 917.8,606.5 919.5,607.5 921.2,610.0 923.0,611.1 923.9,611.2 924.8,611.2 926.5,612.5 928.2,613.8 929.1,614.8 930.0,615.8 930.9,616.5 931.8,617.1 933.5,618.9 935.2,620.1 936.1,622.0 937.0,623.8 937.9,624.5 938.8,625.1 940.5,627.5 942.2,629.6 943.1,630.8 944.0,632.0 944.9,633.9 945.8,635.9 946.6,637.1 947.5,638.4 949.2,640.2 951.0,641.6 951.9,642.8 952.8,644.0 953.6,645.2 954.5,646.4 955.4,647.8 956.2,649.2 957.1,650.8 958.0,652.4 958.9,652.9 959.8,653.4 961.5,800.0 963.2,659.5 965.0,660.6 966.8,663.9 968.5,790.6 969.4,791.3 970.2,792.0 971.1,792.9 972.0,793.7 972.9,795.1 973.8,796.4 975.5,797.8 977.2,799.1 979.0,801.1 980.8,804.1 981.6,805.0 982.5,805.8 984.2,807.8 985.1,808.4 986.0,809.0 987.8,810.1 988.6,811.0 989.5,812.0 990.4,813.2 991.2,814.3 993.0,816.8 993.9,817.1 994.8,817.3 996.5,820.8 997.4,821.8 998.2,822.7 999.1,823.4 1000.0,824.0 1001.8,824.8 1003.5,828.2 1004.4,828.8 1005.2,829.3 1007.0,831.6 1008.8,833.2 1009.6,834.3 1010.5,835.4 1011.4,836.0 1012.2,836.6 1014.0,839.5 1015.8,841.3 1017.5,843.1 1019.2,844.3 1020.1,844.9 1021.0,845.5 1022.8,847.4 1024.5,849.0 1026.2,852.1 1028.0,853.7 1028.9,854.6 1029.8,855.5 1031.5,857.4 1033.2,859.6 1035.0,860.8 1035.9,861.3 1036.8,861.9 1038.5,864.6 1040.2,865.4 1042.0,867.9 1043.8,868.8 1045.5,872.1 1046.4,872.6 1047.2,873.1 1048.1,873.8 1049.0,874.5 1050.8,877.6 1052.5,877.8 1054.2,881.3 1056.0,882.8 1057.8,883.4 1059.5,886.4 1061.2,887.9 1063.0,890.3 1064.8,891.4 1066.5,892.9 1067.4,894.3 1068.2,895.7 1070.0,895.8 1070.9,897.3 1071.8,898.9 1073.5,899.3 1075.2,901.4 1076.1,902.2 1077.0,902.9 1078.8,906.2 1079.6,906.6 1080.5,907.1 1082.2,909.4 1083.1,909.9 1084.0,910.3 1085.8,913.0 1087.5,914.6 1088.4,914.9 1089.2,915.3 1091.0,917.8 1092.8,920.1 1093.6,920.5 1094.5,920.8 1095.4,922.2 1096.2,923.5 1097.1,924.0 1098.0,924.5 1098.9,925.5 1099.8,926.5 1101.5,929.3 1103.2,931.2 1104.1,932.1 1105.0,933.0 1106.8,933.7 1108.5,935.7 1109.4,936.9 1110.2,938.0 1112.0,939.7 1113.8,940.8 1115.5,943.4 1116.4,943.8 1117.2,944.3 1118.1,945.7 1119.0,947.1 1120.8,947.9 1121.6,948.5 1122.5,949.1 1124.2,952.2 1125.1,952.5 1126.0,952.9 1127.8,955.8 1128.6,956.1 1129.5,956.4 1130.4,958.3 1131.2,960.1 1133.0,961.1 1134.8,963.3 1136.5,964.0 1137.4,965.4 1138.2,966.8 1140.0,968.2 1140.9,969.0 1141.8,969.8 1143.5,972.8 1145.2,973.1 1146.1,974.4 1147.0,975.8 1148.8,976.9 1149.6,978.6 1150.5,980.3 1151.4,981.2 1152.2,982.2 1154.0,982.4 1154.9,983.7 1155.8,985.1 1157.5,986.9 1159.2,989.3 1161.0,991.2 1161.9,991.7 1162.8,992.3 1163.6,993.8 1164.5,995.3 1166.2,995.7 1168.0,997.4 1168.9,999.0 1169.8,1000.6 1170.6,1000.9 1171.5,1001.1 1172.4,1002.1 1173.2,1003.1 1174.1,1004.3 1175.0,1005.6 1176.8,1007.1 1178.5,1008.6 1180.2,1012.0 1182.0,1012.9" stroke="#800000" marker-start="url(#mn)" marker-mid="url(#mn)" marker-end="url(#mn)"/>
<polyline points="307.0,172.6 308.8,165.5 309.6,163.2 310.5,160.8 311.4,157.6 312.2,154.4 314.0,150.8 314.9,148.0 315.8,145.2 317.5,145.4 319.2,144.5 320.1,144.2 321.0,143.8 322.8,143.1 323.6,143.1 324.5,143.2 326.2,141.9 328.0,140.7 329.8,141.8 330.6,141.5 331.5,141.1 333.2,140.4 335.0,142.2 335.9,142.5 336.8,142.8 338.5,144.9 339.4,146.1 340.2,147.3 342.0,149.3 343.8,150.8 345.5,151.0 347.2,153.7 349.0,155.1 350.8,156.5 352.5,157.7 354.2,159.3 356.0,161.6 356.9,162.5 357.8,163.3 359.5,164.5 360.4,165.5 361.2,166.4 363.0,218.0 364.8,170.6 365.6,171.3 366.5,171.9 367.4,172.4 368.2,172.8 370.0,175.9 370.9,176.2 371.8,176.6 373.5,179.4 374.4,180.3 375.2,181.2 376.1,181.2 377.0,181.2 377.9,182.5 378.8,183.8 379.6,185.0 380.5,186.2 381.4,186.5 382.2,186.8 383.1,187.8 384.0,188.8 385.8,190.0 387.5,191.1 389.2,227.0 391.0,194.7 392.8,196.7 393.6,197.9 394.5,199.1 395.4,199.9 396.2,200.7 398.0,203.4 398.9,204.2 399.8,204.9 400.6,205.5 401.5,206.2 403.2,209.3 405.0,210.6 405.9,211.5 406.8,212.4 408.5,215.0 409.4,215.8 410.2,216.6 412.0,217.9 412.9,219.1 413.8,220.3 415.5,221.7 417.2,225.0 419.0,225.5 420.8,228.9 422.5,270.0 424.2,230.9 425.1,232.4 426.0,233.9 426.9,234.6 427.8,235.2 429.5,237.7 430.4,238.3 431.2,238.9 433.0,242.2 434.8,243.8 435.6,244.8 436.5,245.8 438.2,248.2 440.0,250.2 440.9,250.9 441.8,251.5 442.6,252.5 443.5,253.5 444.4,253.8 445.2,254.0 446.1,255.0 447.0,256.1 448.8,258.7 450.5,261.7 451.4,262.1 452.2,262.4 454.0,264.8 455.8,265.6 457.5,268.3 459.2,271.2 460.1,271.9 461.0,272.5 461.9,273.7 462.8,274.9 464.5,275.2 466.2,277.6 467.1,278.5 468.0,279.4 469.8,282.7 470.6,282.9 471.5,283.2 472.4,285.0 473.2,286.9 475.0,287.5 476.8,290.8 477.6,291.4 478.5,292.0 479.4,292.8 480.2,293.6 481.1,295.3 482.0,296.9 482.9,297.4 483.8,297.8 484.6,299.1 485.5,300.4 486.4,300.7 487.2,301.1 489.0,304.5 490.8,306.7 491.6,306.8 492.5,306.9 493.4,308.5 494.2,310.1 495.1,310.6 496.0,311.1 497.8,312.8 499.5,315.1 500.4,316.4 501.2,317.6 503.0,370.0 504.8,322.1 506.5,324.1 507.4,324.7 508.2,325.2 509.1,326.2 510.0,327.2 510.9,327.7 511.8,328.2 513.5,331.2 515.2,332.8 516.1,333.6 517.0,334.3 518.8,337.3 519.6,337.7 520.5,338.0 521.4,338.8 522.2,339.7 523.1,340.6 524.0,341.6 525.8,343.5 526.6,344.9 527.5,346.3 529.2,348.7 531.0,349.3 532.8,351.8 533.6,352.8 534.5,353.8 536.2,355.5 538.0,357.1 538.9,358.1 539.8,359.1 541.5,359.9 543.2,361.8 545.0,364.3 546.8,365.7 548.5,368.6 550.2,369.4 552.0,372.3 553.8,373.0 555.5,374.5 557.2,377.1 558.1,377.9 559.0,378.7 559.9,379.5 560.8,380.3 562.5,382.7 564.2,406.0 566.0,385.6 566.9,386.6 567.8,387.5 568.6,387.9 569.5,388.3 570.4,389.1 571.2,389.9 573.0,392.3 574.8,393.2 576.5,393.9 578.2,395.3 579.1,396.1 580.0,396.8 580.9,397.9 581.8,398.9 583.5,400.0 584.4,401.3 585.2,402.6 587.0,403.7 587.9,404.4 588.8,405.0 589.6,406.0 590.5,407.0 592.2,409.4 594.0,409.6 594.9,410.3 595.8,410.9 597.5,412.8 599.2,414.4 600.1,415.7 601.0,417.1 602.8,418.2 604.5,419.2 605.4,419.8 606.2,420.3 607.1,420.9 608.0,421.6 609.8,423.3 611.5,426.3 612.4,426.9 613.2,427.4 615.0,428.0 616.8,430.5 618.5,430.9 620.2,433.4 621.1,434.0 622.0,434.6 623.8,435.6 624.6,437.1 625.5,438.5 627.2,440.0 628.1,440.5 629.0,441.1 629.9,441.5 630.8,442.0 631.6,443.3 632.5,444.5 634.2,445.6 636.0,447.6 637.8,448.0 639.5,451.2 640.4,451.1 641.2,451.0 643.0,452.9 643.9,453.9 644.8,454.8 646.5,456.0 648.2,457.3 649.1,458.7 650.0,460.1 650.9,461.2 651.8,462.2 653.5,462.5 654.4,463.2 655.2,463.9 656.1,465.1 657.0,466.2 657.9,466.6 658.8,466.9 660.5,468.8 662.2,471.3 663.1,472.0 664.0,472.7 665.8,474.1 666.6,474.9 667.5,475.8 669.2,478.7 670.1,480.1 671.0,481.5 672.8,483.2 674.5,483.5 676.2,486.2 677.1,487.2 678.0,488.1 678.9,488.8 679.8,489.4 681.5,524.0 683.2,493.9 685.0,496.4 685.9,496.8 686.8,497.3 688.5,500.5 690.2,502.2 692.0,503.4 693.8,536.0 695.5,507.2 697.2,508.4 699.0,511.5 700.8,513.4 702.5,514.3 704.2,516.2 706.0,515.4 707.8,517.9 709.5,519.2 711.2,518.9 712.1,519.7 713.0,520.5 713.9,520.8 714.8,521.0 715.6,522.1 716.5,523.2 718.2,524.6 720.0,525.0 721.8,526.8 723.5,527.3 725.2,529.1 727.0,529.3 727.9,530.6 728.8,531.8 730.5,531.9 732.2,532.1 734.0,533.4 735.8,535.8 736.6,536.5 737.5,537.2 739.2,537.9 741.0,538.0 742.8,540.6 744.5,541.4 745.4,541.3 746.2,541.3 748.0,542.9 748.9,543.8 749.8,544.6 751.5,544.4 753.2,545.6 755.0,547.4 756.8,549.5 757.6,550.2 758.5,550.9 759.4,550.8 760.2,550.6 762.0,553.1 763.8,554.1 764.6,554.8 765.5,555.5 766.4,555.9 767.2,556.2 769.0,558.2 770.8,558.9 772.5,560.7 773.4,561.0 774.2,561.2 775.1,561.5 776.0,561.7 777.8,563.6 779.5,564.8 781.2,565.8 783.0,567.1 784.8,568.7 786.5,570.1 788.2,570.6 789.1,571.3 790.0,572.0 790.9,572.8 791.8,573.7 792.6,574.3 793.5,575.0 795.2,576.1 797.0,577.8 798.8,578.1 799.6,579.1 800.5,580.1 802.2,581.4 804.0,584.1 805.8,585.8 807.5,587.8 808.4,588.4 809.2,589.0 811.0,590.3 811.9,591.9 812.8,593.5 813.6,593.9 814.5,594.4 816.2,596.0 817.1,596.8 818.0,597.6 818.9,598.6 819.8,599.6 820.6,600.8 821.5,602.0 823.2,604.0 825.0,605.2 826.8,607.5 828.5,608.2 830.2,610.5 831.1,611.3 832.0,612.1 833.8,613.8 834.6,614.8 835.5,615.7 837.2,618.0 839.0,619.5 840.8,619.9 842.5,621.5 844.2,624.1 846.0,625.3 847.8,626.9 849.5,645.0 851.2,629.9 853.0,630.5 854.8,631.6 856.5,633.7 857.4,634.1 858.2,634.6 859.1,636.2 860.0,637.9 860.9,638.2 861.8,638.5 862.6,639.4 863.5,640.3 864.4,641.4 865.2,642.4 867.0,643.6 868.8,644.0 869.6,644.8 870.5,645.7 871.4,646.2 872.2,646.7 874.0,649.6 875.8,651.0 877.5,652.0 878.4,652.6 879.2,653.2 881.0,654.5 882.8,656.5 884.5,658.4 885.4,659.4 886.2,660.3 888.0,661.7 889.8,663.2 891.5,663.9 893.2,665.3 895.0,666.6 895.9,668.0 896.8,669.4 898.5,669.4 900.2,670.8 902.0,672.6 903.8,675.3 904.6,676.0 905.5,676.7 907.2,677.2 908.1,678.4 909.0,679.7 910.8,681.3 912.5,681.9 914.2,682.9 915.1,684.2 916.0,685.5 917.8,686.2 918.6,686.7 919.5,687.2 921.2,690.3 923.0,690.9 924.8,692.3 925.6,693.2 926.5,694.2 927.4,694.6 928.2,695.0 930.0,696.0 931.8,698.3 933.5,699.8 935.2,700.5 937.0,702.8 938.8,705.1 940.5,705.8 942.2,708.0 944.0,709.4 945.8,710.0 947.5,711.2 949.2,714.1 950.1,714.8 951.0,715.5 952.8,716.3 954.5,717.7 955.4,719.1 956.2,720.5 957.1,721.3 958.0,722.2 959.8,722.3 961.5,724.6 962.4,725.3 963.2,726.1 964.1,726.6 965.0,727.1 966.8,728.0 968.5,730.1 969.4,731.2 970.2,732.3 972.0,802.2 972.9,803.1 973.8,804.0 974.6,804.6 975.5,805.2 977.2,807.4 979.0,809.6 979.9,810.7 980.8,811.8 981.6,812.8 982.5,813.7 983.4,815.3 984.2,816.8 985.1,817.0 986.0,817.2 986.9,819.1 987.8,821.0 989.5,821.5 991.2,824.7 992.1,825.1 993.0,825.5 993.9,826.8 994.8,828.2 995.6,829.0 996.5,829.8 998.2,831.1 1000.0,834.6 1001.8,836.4 1003.5,837.2 1004.4,838.6 1005.2,840.0 1007.0,841.2 1007.9,842.7 1008.8,844.1 1010.5,844.0 1011.4,845.3 1012.2,846.5 1013.1,847.3 1014.0,848.0 1015.8,850.6 1016.6,851.7 1017.5,852.8 1019.2,854.7 1020.1,855.3 1021.0,855.9 1021.9,856.7 1022.8,857.4 1024.5,860.1 1026.2,881.0 1028.0,862.7 1029.8,865.5 1030.6,866.1 1031.5,866.7 1033.2,869.6 1035.0,869.6 1035.9,870.9 1036.8,872.2 1037.6,872.8 1038.5,873.5 1040.2,874.9 1042.0,876.9 1043.8,878.7 1045.5,881.1 1046.4,882.1 1047.2,883.0 1049.0,885.0 1050.8,886.4 1052.5,889.0 1054.2,890.5 1055.1,891.9 1056.0,893.2 1057.8,893.4 1059.5,895.9 1061.2,897.7 1062.1,898.5 1063.0,899.2 1064.8,902.0 1066.5,902.4 1068.2,905.6 1070.0,906.3 1071.8,873.0 1073.5,910.4 1075.2,912.0 1076.1,912.6 1077.0,913.2 1077.9,913.9 1078.8,914.6 1080.5,918.1 1082.2,918.7 1084.0,920.0 1085.8,922.8 1087.5,924.4 1089.2,925.7 1091.0,927.5 1092.8,930.3 1094.5,931.1 1096.2,933.0 1097.1,934.4 1098.0,935.9 1099.8,936.4 1100.6,937.4 1101.5,938.3 1103.2,939.6 1105.0,942.4 1105.9,943.3 1106.8,944.1 1108.5,945.5 1109.4,946.3 1110.2,947.2 1112.0,948.6 1112.9,950.0 1113.8,951.5 1115.5,952.6 1117.2,955.1 1118.1,955.5 1119.0,956.0 1120.8,958.5 1122.5,958.8 1123.4,959.8 1124.2,960.8 1125.1,962.4 1126.0,964.0 1126.9,964.6 1127.8,965.1 1128.6,966.0 1129.5,966.8 1131.2,968.2 1133.0,969.8 1133.9,970.4 1134.8,971.0 1136.5,972.6 1138.2,975.2 1139.1,976.1 1140.0,977.0 1141.8,977.9 1143.5,980.3 1145.2,981.0 1146.1,982.3 1147.0,983.7 1147.9,984.1 1148.8,984.5 1150.5,986.8 1151.4,987.5 1152.2,988.1 1154.0,990.3 1154.9,990.7 1155.8,991.2 1157.5,993.6 1158.4,994.6 1159.2,995.5 1160.1,995.9 1161.0,996.3 1162.8,1105.6 1164.5,1001.4 1166.2,1002.8 1168.0,1004.6 1169.8,1006.6 1170.6,1007.2 1171.5,1007.8 1173.2,1008.8 1174.1,1009.9 1175.0,1010.9 1176.8,1013.4 1178.5,1014.5 1179.4,1015.6 1180.2,1016.6 1182.0,1017.5" stroke="#800000" marker-start="url(#mn)" marker-mid="url(#mn)" marker-end="url(#mn)"/>
<polyline points="307.0,129.6 308.8,131.8 309.6,130.2 310.5,128.6 311.4,126.9 312.2,125.2 313.1,122.2 314.0,119.2 315.8,121.6 317.5,115.3 318.4,118.6 319.2,121.8 321.0,121.5 322.8,118.9 324.5,114.6 325.4,116.6 326.2,118.6 327.1,115.6 328.0,112.6 328.9,114.9 329.8,117.2 330.6,115.6 331.5,114.1 333.2,109.4 334.1,112.6 335.0,115.8 336.8,111.5 338.5,115.1 339.4,114.7 340.2,114.4 341.1,114.0 342.0,113.5 342.9,115.1 343.8,116.6 345.5,111.8 346.4,114.8 347.2,117.8 349.0,113.7 350.8,112.8 351.6,114.8 352.5,116.9 354.2,116.3 355.1,117.1 356.0,117.9 357.8,123.9 359.5,121.5 360.4,122.4 361.2,123.4 362.1,124.7 363.0,126.0 364.8,127.5 366.5,134.2 367.4,134.9 368.2,135.7 369.1,136.3 370.0,137.0 371.8,139.2 373.5,136.0 375.2,140.1 376.1,138.6 377.0,137.2 377.9,140.4 378.8,143.6 379.6,143.8 380.5,143.9 382.2,144.5 384.0,141.7 385.8,126.3 387.5,147.2 388.4,147.5 389.2,147.7 390.1,148.4 391.0,149.1 391.9,150.0 392.8,150.8 394.5,150.6 395.4,151.8 396.2,153.0 397.1,153.4 398.0,153.8 398.9,154.7 399.8,155.6 400.6,155.9 401.5,156.2 402.4,156.6 403.2,156.9 404.1,158.3 405.0,159.7 406.8,159.6 408.5,161.8 410.2,163.2 412.0,163.4 413.8,165.6 414.6,166.0 415.5,166.4 417.2,167.4 419.0,168.8 420.8,164.6 422.5,171.8 423.4,172.6 424.2,173.5 426.0,174.8 426.9,175.0 427.8,175.2 428.6,176.6 429.5,178.0 430.4,178.7 431.2,179.4 433.0,181.0 434.8,181.3 435.6,181.9 436.5,182.4 438.2,184.0 439.1,185.1 440.0,186.2 440.9,186.7 441.8,187.3 443.5,188.2 444.4,185.5 445.2,182.8 447.0,190.4 448.8,193.2 450.5,193.7 452.2,195.1 454.0,197.0 454.9,197.1 455.8,197.2 456.6,198.4 457.5,199.6 459.2,200.2 461.0,202.4 461.9,202.4 462.8,202.3 463.6,203.2 464.5,204.1 466.2,206.1 468.0,207.2 469.8,208.3 471.5,210.0 472.4,210.3 473.2,210.7 474.1,211.5 475.0,212.4 475.9,212.7 476.8,212.9 477.6,214.4 478.5,215.8 479.4,216.0 480.2,216.1 481.1,217.4 482.0,218.6 482.9,219.0 483.8,219.4 484.6,220.1 485.5,220.8 487.2,222.2 489.0,222.6 489.9,223.9 490.8,225.2 492.5,225.6 493.4,226.7 494.2,227.9 496.0,228.8 496.9,229.3 497.8,229.7 499.5,231.1 500.4,231.3 501.2,231.5 502.1,232.3 503.0,233.1 503.9,233.9 504.8,234.8 506.5,234.4 508.2,235.3 510.0,237.1 511.8,238.4 513.5,238.8 515.2,240.1 516.1,241.3 517.0,242.5 518.8,242.7 520.5,243.3 521.4,243.9 522.2,244.5 524.0,246.4 525.8,246.8 527.5,248.5 529.2,249.7 530.1,250.2 531.0,250.6 532.8,251.9 533.6,252.8 534.5,253.7 535.4,253.4 536.2,253.1 538.0,256.0 538.9,255.8 539.8,255.6 540.6,255.9 541.5,256.3 543.2,258.8 544.1,259.2 545.0,259.5 546.8,260.5 548.5,238.0 550.2,263.1 551.1,263.1 552.0,263.2 552.9,264.2 553.8,265.1 555.5,265.2 556.4,266.0 557.2,266.9 559.0,268.1 559.9,268.4 560.8,268.6 561.6,269.3 562.5,269.9 563.4,270.0 564.2,270.1 565.1,271.2 566.0,272.2 566.9,272.7 567.8,273.2 568.6,273.1 569.5,273.0 570.4,273.9 571.2,274.7 573.0,276.0 573.9,275.8 574.8,275.6 576.5,278.0 577.4,278.5 578.2,279.0 579.1,278.6 580.0,278.3 581.8,279.6 582.6,279.8 583.5,280.1 585.2,281.4 586.1,281.7 587.0,282.0 588.8,283.7 589.6,283.9 590.5,284.1 592.2,285.1 593.1,285.7 594.0,286.3 595.8,287.1 596.6,287.9 597.5,288.8 598.4,289.2 599.2,289.6 601.0,289.3 601.9,289.8 602.8,290.4 603.6,290.6 604.5,290.9 606.2,292.4 607.1,292.6 608.0,292.9 608.9,293.9 609.8,295.0 610.6,295.5 611.5,296.0 613.2,297.4 615.0,296.7 615.9,297.0 616.8,297.3 617.6,298.4 618.5,299.6 620.2,299.8 621.1,300.8 622.0,301.9 622.9,301.8 623.8,301.8 624.6,302.2 625.5,302.6 627.2,303.1 628.1,304.5 629.0,305.9 630.8,306.0 631.6,306.5 632.5,306.9 634.2,307.9 635.1,308.7 636.0,309.5 637.8,310.7 639.5,311.0 640.4,311.2 641.2,311.4 643.0,312.8 643.9,313.8 644.8,314.8 645.6,314.8 646.5,314.8 647.4,315.6 648.2,316.3 649.1,316.7 650.0,317.1 650.9,317.5 651.8,317.9 652.6,318.5 653.5,319.1 654.4,319.3 655.2,319.5 656.1,320.3 657.0,321.1 658.8,322.7 659.6,322.4 660.5,322.2 662.2,360.5 664.0,325.2 665.8,326.1 666.6,325.4 667.5,324.8 668.4,325.8 669.2,326.8 671.0,365.0 672.8,328.6 673.6,328.6 674.5,328.6 676.2,328.6 677.1,329.1 678.0,329.6 678.9,330.4 679.8,331.1 680.6,331.5 681.5,331.9 682.4,331.7 683.2,331.5 685.0,333.1 686.8,333.8 687.6,334.2 688.5,334.5 690.2,334.0 691.1,334.7 692.0,335.5 692.9,335.7 693.8,336.0 695.5,337.2 697.2,337.4 698.1,337.6 699.0,337.7 700.8,339.5 701.6,339.4 702.5,339.4 703.4,340.3 704.2,341.1 705.1,341.0 706.0,340.9 706.9,341.4 707.8,342.0 709.5,343.3 711.2,342.6 713.0,344.5 713.9,344.2 714.8,343.9 715.6,345.1 716.5,346.3 717.4,345.8 718.2,345.2 719.1,346.3 720.0,347.3 721.8,347.3 723.5,347.6 724.4,348.2 725.2,348.8 727.0,349.7 727.9,349.9 728.8,350.2 729.6,350.3 730.5,350.3 731.4,351.1 732.2,351.8 734.0,352.1 734.9,353.1 735.8,354.1 737.5,353.6 739.2,354.4 741.0,354.7 741.9,355.8 742.8,356.9 744.5,356.3 745.4,357.0 746.2,357.7 748.0,358.8 748.9,358.7 749.8,358.6 750.6,359.3 751.5,360.0 753.2,359.8 755.0,360.1 756.8,360.7 757.6,361.4 758.5,362.2 760.2,363.7 762.0,363.2 762.9,363.9 763.8,364.5 764.6,365.2 765.5,365.9 767.2,365.8 768.1,366.1 769.0,366.3 769.9,367.1 770.8,367.9 771.6,368.2 772.5,368.5 773.4,369.4 774.2,370.3 775.1,370.7 776.0,371.1 777.8,370.5 778.6,371.3 779.5,372.0 780.4,372.3 781.2,372.5 783.0,372.6 784.8,374.2 786.5,375.9 788.2,375.5 789.1,376.2 790.0,376.9 790.9,377.4 791.8,377.9 792.6,377.7 793.5,377.5 795.2,380.0 796.1,379.6 797.0,379.2 797.9,379.8 798.8,380.4 799.6,381.2 800.5,382.0 801.4,381.7 802.2,381.4 803.1,382.2 804.0,382.9 805.8,383.2 806.6,384.0 807.5,384.7 808.4,384.7 809.2,384.6 810.1,385.2 811.0,385.7 811.9,386.2 812.8,386.7 814.5,387.2 815.4,387.6 816.2,388.0 817.1,388.5 818.0,389.0 818.9,389.7 819.8,390.5 821.5,390.5 822.4,391.6 823.2,392.7 825.0,392.7 826.8,393.2 827.6,393.6 828.5,394.0 830.2,396.0 832.0,395.2 833.8,397.4 835.5,396.9 836.4,398.1 837.2,399.4 838.1,399.3 839.0,399.1 840.8,400.3 841.6,401.0 842.5,401.7 844.2,400.9 846.0,401.7 847.8,403.7 848.6,404.0 849.5,404.3 850.4,404.9 851.2,405.4 853.0,405.3 853.9,406.0 854.8,406.6 856.5,406.8 857.4,407.4 858.2,408.1 859.1,408.3 860.0,408.6 861.8,410.0 862.6,410.1 863.5,410.2 864.4,410.5 865.2,410.9 866.1,411.6 867.0,412.4 867.9,412.2 868.8,412.1 869.6,413.2 870.5,414.3 871.4,414.4 872.2,414.5 874.0,414.7 874.9,415.0 875.8,415.3 877.5,416.8 879.2,417.6 881.0,418.8 881.9,418.8 882.8,418.9 884.5,419.8 886.2,421.5 887.1,421.3 888.0,421.0 889.8,423.2 890.6,423.5 891.5,423.8 893.2,424.8 895.0,425.5 895.9,425.2 896.8,424.9 898.5,426.8 899.4,427.0 900.2,427.2 902.0,427.1 903.8,429.5 904.6,429.5 905.5,429.6 906.4,430.1 907.2,430.7 909.0,431.0 909.9,430.9 910.8,430.8 912.5,433.1 914.2,432.5 915.1,433.0 916.0,433.5 917.8,435.0 918.6,435.0 919.5,434.9 921.2,436.2 923.0,437.5 924.8,437.1 926.5,439.0 928.2,438.6 929.1,439.4 930.0,440.2 930.9,440.7 931.8,441.3 933.5,479.3 934.4,479.0 935.2,478.8 937.0,508.0 938.8,482.2 939.6,482.1 940.5,481.9 941.4,482.3 942.2,482.8 943.1,483.1 944.0,483.5 944.9,484.2 945.8,484.9 946.6,485.3 947.5,485.8 949.2,486.4 950.1,486.6 951.0,486.7 951.9,487.3 952.8,487.8 954.5,488.5 955.4,488.6 956.2,488.7 958.0,491.0 959.8,491.8 960.6,492.1 961.5,492.3 963.2,493.5 965.0,493.2 966.8,494.8 967.6,494.6 968.5,494.4 969.4,495.3 970.2,496.2 972.0,496.9 972.9,497.6 973.8,498.2 974.6,498.5 975.5,498.8 977.2,499.7 978.1,499.5 979.0,499.3 979.9,500.2 980.8,501.1 981.6,501.2 982.5,501.3 983.4,501.5 984.2,501.7 986.0,502.7 987.8,504.3 989.5,505.2 991.2,506.0 993.0,506.5 994.8,506.3 995.6,506.7 996.5,507.0 998.2,508.7 999.1,508.7 1000.0,508.8 1001.8,509.8 1002.6,510.0 1003.5,510.1 1005.2,511.0 1006.1,512.0 1007.0,513.0 1007.9,512.9 1008.8,512.8 1009.6,513.8 1010.5,514.8 1011.4,514.7 1012.2,514.6 1013.1,515.5 1014.0,516.4 1015.8,516.1 1017.5,516.9 1018.4,517.4 1019.2,517.9 1021.0,518.0 1021.9,518.8 1022.8,519.6 1023.6,520.0 1024.5,520.3 1025.4,520.3 1026.2,520.4 1027.1,521.6 1028.0,522.9 1029.8,522.7 1031.5,522.7 1032.4,524.1 1033.2,525.5 1035.0,524.8 1035.9,525.2 1036.8,525.6 1037.6,525.8 1038.5,526.0 1039.4,526.5 1040.2,526.9 1042.0,529.0 1042.9,529.2 1043.8,529.5 1044.6,529.8 1045.5,530.2 1047.2,530.4 1049.0,531.3 1049.9,532.4 1050.8,533.5 1051.6,533.3 1052.5,533.1 1053.4,534.1 1054.2,535.1 1055.1,535.4 1056.0,535.7 1056.9,535.4 1057.8,535.0 1059.5,537.2 1060.4,536.8 1061.2,536.4 1062.1,537.5 1063.0,538.6 1063.9,539.1 1064.8,539.6 1065.6,539.9 1066.5,540.1 1067.4,540.4 1068.2,540.7 1069.1,541.3 1070.0,542.0 1071.8,541.5 1073.5,543.0 1074.4,543.2 1075.2,543.3 1076.1,543.8 1077.0,544.4 1077.9,544.5 1078.8,544.7 1080.5,546.6 1082.2,547.1 1083.1,547.7 1084.0,548.3 1084.9,548.6 1085.8,548.8 1086.6,549.2 1087.5,549.6 1088.4,550.3 1089.2,551.0 1091.0,551.6 1092.8,551.9 1093.6,552.1 1094.5,552.2 1096.2,554.2 1097.1,554.1 1098.0,553.9 1099.8,554.2 1100.6,554.8 1101.5,555.4 1103.2,557.0 1105.0,558.2 1106.8,558.5 1108.5,559.3 1110.2,560.6 1112.0,561.1 1113.8,665.0 1115.5,562.1 1117.2,563.5 1119.0,563.4 1120.8,563.8 1122.5,565.6 1124.2,566.8 1126.0,566.5 1127.8,568.1 1128.6,568.8 1129.5,569.4 1130.4,569.0 1131.2,568.6 1132.1,569.0 1133.0,569.5 1134.8,571.0 1136.5,571.5 1137.4,572.5 1138.2,573.5 1139.1,573.9 1140.0,574.4 1140.9,574.2 1141.8,574.1 1142.6,574.8 1143.5,575.6 1144.4,575.8 1145.2,576.0 1146.1,576.0 1147.0,575.9 1148.8,578.3 1149.6,577.9 1150.5,577.5 1151.4,577.8 1152.2,578.1 1154.0,579.7 1154.9,579.7 1155.8,579.6 1156.6,580.5 1157.5,581.4 1159.2,582.0 1160.1,583.0 1161.0,583.9 1161.9,583.8 1162.8,583.6 1163.6,584.5 1164.5,585.3 1165.4,585.6 1166.2,586.0 1168.0,586.4 1169.8,586.5 1170.6,586.9 1171.5,587.4 1172.4,588.0 1173.2,588.6 1175.0,589.2 1175.9,589.8 1176.8,590.5 1177.6,590.8 1178.5,591.0" stroke="#ff00ff" marker-start="url(#mm)" marker-mid="url(#mm)" marker-end="url(#mm)"/>
<polyline points="308.8,170.2 309.6,168.6 310.5,167.1 311.4,166.0 312.2,165.0 314.0,155.6 315.8,155.5 316.6,153.2 317.5,150.8 319.2,150.2 321.0,148.4 321.9,149.5 322.8,150.7 324.5,153.4 325.4,153.0 326.2,152.6 327.1,154.3 328.0,156.0 329.8,155.4 331.5,153.5 332.4,153.8 333.2,154.1 335.0,149.1 335.9,151.3 336.8,153.5 337.6,153.2 338.5,152.9 339.4,155.1 340.2,157.2 341.1,154.8 342.0,152.3 343.8,157.8 345.5,156.8 347.2,158.6 349.0,158.4 350.8,156.0 352.5,163.8 353.4,164.8 354.2,165.9 356.0,165.4 356.9,163.7 357.8,162.0 359.5,168.3 360.4,170.4 361.2,172.5 363.0,175.1 363.9,174.7 364.8,174.3 365.6,171.4 366.5,168.6 368.2,178.4 369.1,178.0 370.0,177.7 370.9,176.5 371.8,175.3 373.5,183.2 374.4,183.4 375.2,183.7 377.0,182.7 377.9,182.8 378.8,182.8 379.6,183.9 380.5,185.0 381.4,185.5 382.2,186.0 383.1,186.7 384.0,187.3 384.9,188.5 385.8,189.7 386.6,190.3 387.5,190.9 389.2,191.8 391.0,193.6 392.8,195.9 393.6,196.2 394.5,196.6 395.4,197.7 396.2,198.9 398.0,200.0 398.9,201.4 399.8,202.7 400.6,202.7 401.5,202.6 403.2,205.3 405.0,207.4 405.9,208.5 406.8,209.6 408.5,211.9 409.4,212.5 410.2,213.0 412.0,214.6 412.9,215.7 413.8,216.8 415.5,218.4 417.2,220.6 419.0,222.9 420.8,222.9 421.6,224.1 422.5,225.3 423.4,226.8 424.2,228.3 426.0,228.5 426.9,230.2 427.8,231.9 429.5,232.3 431.2,235.4 432.1,236.6 433.0,237.7 433.9,238.1 434.8,238.5 436.5,240.7 437.4,241.5 438.2,242.3 439.1,243.8 440.0,245.2 440.9,246.0 441.8,246.8 442.6,247.9 443.5,248.9 445.2,250.3 447.0,252.7 447.9,254.1 448.8,255.4 450.5,257.0 452.2,259.3 453.1,259.5 454.0,259.8 455.8,262.3 456.6,263.1 457.5,263.9 458.4,264.9 459.2,265.8 461.0,268.6 461.9,269.0 462.8,269.3 463.6,270.7 464.5,272.0 466.2,274.4 467.1,275.5 468.0,276.6 468.9,276.7 469.8,276.7 471.5,279.2 473.2,281.6 474.1,283.1 475.0,284.5 475.9,284.7 476.8,284.9 477.6,286.6 478.5,288.3 479.4,288.8 480.2,289.4 481.1,290.5 482.0,291.6 482.9,293.0 483.8,294.4 485.5,294.6 487.2,296.8 488.1,297.4 489.0,298.1 489.9,298.9 490.8,299.7 491.6,300.7 492.5,301.6 494.2,304.1 496.0,305.5 496.9,305.8 497.8,306.2 499.5,309.2 500.4,309.7 501.2,310.2 502.1,310.7 503.0,311.1 503.9,312.6 504.8,314.1 506.5,315.8 507.4,316.0 508.2,316.2 509.1,317.7 510.0,319.3 511.8,320.6 512.6,320.9 513.5,321.1 514.4,321.7 515.2,322.3 516.1,324.0 517.0,325.7 518.8,327.2 519.6,327.3 520.5,327.4 522.2,330.4 524.0,332.0 525.8,333.4 526.6,334.4 527.5,335.4 529.2,337.3 531.0,337.7 531.9,339.0 532.8,340.4 533.6,341.4 534.5,342.4 536.2,342.9 537.1,344.2 538.0,345.4 539.8,390.0 541.5,349.3 543.2,350.5 545.0,351.6 546.8,353.4 548.5,355.7 549.4,356.2 550.2,356.7 552.0,359.9 553.8,361.7 554.6,361.9 555.5,362.2 556.4,363.5 557.2,364.8 559.0,366.5 559.9,366.9 560.8,367.2 561.6,368.7 562.5,370.3 563.4,371.1 564.2,372.0 565.1,372.4 566.0,372.9 567.8,374.2 569.5,376.2 571.2,378.8 572.1,379.3 573.0,379.8 573.9,380.9 574.8,382.1 576.5,382.4 577.4,383.2 578.2,383.9 580.0,386.0 580.9,387.4 581.8,388.7 582.6,388.8 583.5,388.9 585.2,390.3 586.1,391.8 587.0,393.3 587.9,393.4 588.8,393.6 589.6,395.0 590.5,396.4 591.4,396.6 592.2,396.8 593.1,397.8 594.0,398.7 595.8,401.2 597.5,403.1 598.4,403.3 599.2,403.5 600.1,404.1 601.0,404.8 601.9,405.0 602.8,405.2 604.5,407.1 605.4,407.7 606.2,408.2 608.0,410.6 608.9,411.1 609.8,411.7 611.5,413.1 613.2,413.8 614.1,414.6 615.0,415.5 616.8,415.6 617.6,416.5 618.5,417.4 620.2,418.4 621.1,419.1 622.0,419.7 622.9,420.8 623.8,421.9 624.6,422.0 625.5,422.1 626.4,422.8 627.2,423.6 629.0,424.8 630.8,427.2 631.6,427.6 632.5,428.0 633.4,428.5 634.2,429.0 635.1,429.5 636.0,430.0 636.9,431.2 637.8,432.4 639.5,433.7 640.4,433.8 641.2,434.0 642.1,434.7 643.0,435.5 643.9,436.4 644.8,437.3 645.6,437.3 646.5,437.4 647.4,438.0 648.2,438.6 649.1,439.1 650.0,439.6 650.9,440.6 651.8,441.7 653.5,443.5 655.2,443.5 656.1,444.4 657.0,445.3 658.8,447.7 659.6,447.8 660.5,448.0 662.2,449.4 663.1,450.6 664.0,451.9 665.8,453.6 667.5,454.2 668.4,454.7 669.2,455.3 670.1,456.6 671.0,457.9 671.9,458.8 672.8,459.7 674.5,461.7 675.4,462.3 676.2,462.8 677.1,463.3 678.0,463.7 679.8,465.7 681.5,466.9 683.2,468.8 685.0,470.5 686.8,473.0 687.6,473.8 688.5,474.6 690.2,476.2 692.0,476.9 693.8,479.5 695.5,479.5 697.2,482.6 698.1,483.1 699.0,483.7 699.9,484.7 700.8,485.7 701.6,485.9 702.5,486.0 704.2,488.4 706.0,487.7 707.8,490.5 708.6,491.1 709.5,491.7 711.2,492.0 713.0,494.1 713.9,494.1 714.8,494.1 715.6,495.2 716.5,496.4 718.2,497.0 720.0,498.1 721.8,498.9 722.6,500.1 723.5,501.3 725.2,502.3 727.0,502.3 728.8,505.3 730.5,504.9 731.4,505.7 732.2,506.5 734.0,507.7 734.9,508.5 735.8,509.3 737.5,511.1 739.2,512.4 740.1,512.7 741.0,513.0 742.8,513.7 743.6,514.0 744.5,514.4 745.4,514.9 746.2,515.5 747.1,516.5 748.0,517.6 749.8,518.9 750.6,519.4 751.5,519.9 752.4,521.0 753.2,522.1 755.0,522.2 756.8,523.3 757.6,524.0 758.5,524.6 759.4,525.0 760.2,525.3 761.1,526.7 762.0,528.0 763.8,528.4 765.5,529.5 767.2,530.4 769.0,531.2 770.8,532.4 772.5,533.9 774.2,534.9 775.1,536.0 776.0,537.1 776.9,537.3 777.8,537.4 778.6,537.6 779.5,537.8 781.2,538.7 783.0,540.0 784.8,541.5 785.6,542.5 786.5,543.5 788.2,544.9 790.0,544.7 791.8,546.9 793.5,547.4 794.4,548.0 795.2,548.7 797.0,549.8 797.9,549.9 798.8,550.0 799.6,550.5 800.5,551.1 801.4,552.3 802.2,553.5 803.1,554.1 804.0,554.7 804.9,554.9 805.8,555.2 806.6,556.3 807.5,557.4 808.4,557.9 809.2,558.4 811.0,558.5 812.8,559.2 813.6,560.2 814.5,561.3 816.2,562.7 817.1,562.8 818.0,562.9 818.9,563.3 819.8,563.7 820.6,564.8 821.5,565.8 823.2,566.0 825.0,568.6 826.8,569.5 827.6,569.7 828.5,570.0 829.4,570.7 830.2,571.4 831.1,571.8 832.0,572.2 833.8,573.2 835.5,574.4 837.2,576.6 839.0,576.7 839.9,577.5 840.8,578.2 841.6,578.3 842.5,578.4 843.4,579.3 844.2,580.2 845.1,580.5 846.0,580.7 846.9,581.2 847.8,581.8 849.5,582.2 851.2,583.4 852.1,583.5 853.0,583.6 853.9,584.8 854.8,586.1 856.5,586.4 858.2,587.0 859.1,587.6 860.0,588.2 860.9,588.1 861.8,588.0 863.5,589.4 865.2,590.1 867.0,592.3 867.9,591.9 868.8,591.5 870.5,593.3 871.4,594.2 872.2,595.1 874.0,595.8 875.8,596.6 876.6,596.7 877.5,596.7 878.4,597.1 879.2,597.5 880.1,598.4 881.0,599.4 882.8,599.5 884.5,601.2 886.2,601.4 887.1,602.3 888.0,603.2 888.9,603.4 889.8,603.7 890.6,604.4 891.5,605.1 893.2,606.4 895.0,606.1 896.8,608.2 897.6,607.7 898.5,607.2 900.2,609.8 901.1,609.4 902.0,609.1 903.8,611.1 905.5,611.7 906.4,612.6 907.2,613.4 908.1,613.5 909.0,613.5 909.9,613.9 910.8,614.2 912.5,616.4 914.2,616.9 915.1,617.5 916.0,618.2 917.8,618.7 919.5,618.7 921.2,621.2 923.0,621.0 923.9,621.8 924.8,622.5 926.5,622.5 928.2,624.0 929.1,624.9 930.0,625.8 931.8,626.9 932.6,627.3 933.5,627.7 934.4,627.9 935.2,628.2 937.0,629.8 937.9,630.2 938.8,630.6 939.6,630.6 940.5,630.7 941.4,631.5 942.2,632.3 943.1,632.8 944.0,633.4 944.9,634.0 945.8,634.6 946.6,634.5 947.5,634.5 949.2,635.7 951.0,636.7 951.9,637.0 952.8,637.2 953.6,638.4 954.5,639.5 955.4,640.8 956.2,642.1 957.1,642.9 958.0,643.7 959.8,644.7 960.6,646.2 961.5,647.6 962.4,647.9 963.2,648.2 964.1,649.8 965.0,651.3 965.9,651.6 966.8,652.0 967.6,652.8 968.5,653.7 969.4,654.8 970.2,655.8 972.0,658.2 972.9,658.9 973.8,659.5 975.5,722.8 976.4,724.7 977.2,726.5 978.1,727.7 979.0,728.9 980.8,733.5 982.5,734.3 984.2,791.0 986.0,735.1 987.8,737.4 989.5,738.2 990.4,737.7 991.2,737.2 993.0,738.7 993.9,739.1 994.8,739.6 996.5,740.2 997.4,740.8 998.2,741.5 999.1,742.4 1000.0,743.3 1001.8,742.4 1002.6,743.7 1003.5,744.9 1005.2,744.7 1006.1,744.9 1007.0,745.0 1007.9,746.3 1008.8,747.6 1010.5,747.3 1011.4,747.6 1012.2,748.0 1013.1,748.3 1014.0,748.7 1014.9,749.4 1015.8,750.0 1017.5,750.4 1018.4,750.9 1019.2,751.4 1020.1,751.9 1021.0,752.4 1022.8,753.9 1024.5,754.5 1026.2,755.1 1028.0,756.4 1028.9,757.1 1029.8,757.8 1031.5,758.5 1033.2,758.6 1035.0,791.0 1036.8,761.3 1038.5,761.7 1040.2,762.4 1041.1,762.7 1042.0,762.9 1043.8,763.4 1045.5,765.8 1047.2,766.1 1048.1,766.0 1049.0,765.9 1049.9,767.2 1050.8,768.5 1052.5,769.3 1053.4,768.8 1054.2,768.4 1056.0,770.6 1057.8,770.6 1058.6,771.3 1059.5,772.0 1060.4,772.7 1061.2,773.5 1063.0,773.4 1064.8,774.5 1066.5,775.7 1068.2,775.7 1069.1,776.5 1070.0,777.4 1070.9,777.6 1071.8,777.9 1073.5,780.1 1075.2,779.7 1077.0,782.0 1077.9,781.9 1078.8,781.8 1079.6,782.6 1080.5,783.5 1082.2,784.3 1083.1,784.9 1084.0,785.6 1084.9,786.5 1085.8,787.5 1087.5,788.0 1088.4,789.2 1089.2,790.4 1091.0,790.2 1091.9,791.3 1092.8,792.4 1094.5,794.1 1095.4,793.9 1096.2,793.8 1098.0,795.2 1099.8,797.4 1100.6,797.7 1101.5,798.0 1102.4,799.1 1103.2,800.1 1104.1,800.1 1105.0,800.1 1105.9,800.8 1106.8,801.4 1107.6,802.6 1108.5,803.7 1109.4,803.7 1110.2,803.7 1111.1,804.9 1112.0,806.1 1113.8,807.1 1114.6,807.0 1115.5,806.9 1116.4,807.9 1117.2,808.8 1119.0,810.8 1120.8,810.3 1121.6,811.6 1122.5,813.0 1124.2,814.0 1125.1,814.6 1126.0,815.1 1127.8,816.0 1128.6,816.1 1129.5,816.2 1130.4,817.6 1131.2,819.1 1133.0,818.5 1133.9,819.8 1134.8,821.1 1136.5,822.2 1137.4,822.3 1138.2,822.5 1140.0,824.4 1140.9,824.8 1141.8,825.1 1142.6,826.0 1143.5,826.9 1145.2,826.7 1146.1,828.2 1147.0,829.7 1148.8,829.7 1149.6,830.8 1150.5,831.8 1152.2,832.3 1153.1,833.2 1154.0,834.1 1154.9,834.2 1155.8,834.3 1157.5,836.0 1158.4,836.0 1159.2,836.1 1160.1,837.2 1161.0,838.2 1161.9,838.4 1162.8,838.6 1163.6,840.0 1164.5,841.3 1166.2,842.1 1167.1,842.5 1168.0,842.8 1169.8,969.6 1171.5,846.2 1173.2,847.4 1175.0,846.9 1176.8,849.3 1177.6,849.9 1178.5,850.5 1179.4,851.0 1180.2,851.4 1182.0,851.5 1183.8,854.4" stroke="#ff00ff" marker-start="url(#mm)" marker-mid="url(#mm)" marker-end="url(#mm)"/>
<path transform="translate(312.5,162.0)" d="M0,-21.94 L19.00,10.97 L-19.00,10.97 Z" fill="#fff" stroke="#ff00ff" stroke-width="2"/>
<path transform="translate(336.0,184.0)" d="M0,-21.94 L19.00,10.97 L-19.00,10.97 Z" fill="#fff" stroke="#ff00ff" stroke-width="2"/>
<path transform="translate(368.7,173.3)" d="M0,-21.94 L19.00,10.97 L-19.00,10.97 Z" fill="#fff" stroke="#ff00ff" stroke-width="2"/>
<path transform="translate(367.7,201.6)" d="M0,-21.94 L19.00,10.97 L-19.00,10.97 Z" fill="#fff" stroke="#ff00ff" stroke-width="2"/>
<path transform="translate(328.0,219.0)" d="M0,-21.94 L19.00,10.97 L-19.00,10.97 Z" fill="#fff" stroke="#ff00ff" stroke-width="2"/>
</g>
<g font-size="70" text-anchor="end">
<text x="191" y="1115.3">93</text>
<text x="191" y="982.4">94</text>
<text x="191" y="849.5">95</text>
<text x="191" y="716.7">96</text>
<text x="191" y="583.8">97</text>
<text x="191" y="450.9">98</text>
<text x="191" y="318.1">99</text>
<text x="191" y="185.2">100</text>
<text x="191" y="52.3">101</text>
</g>
<g font-size="70" text-anchor="middle">
<text x="307.0" y="1176">0</text>
<text x="482.0" y="1176">100</text>
<text x="657.0" y="1176">200</text>
<text x="832.0" y="1176">300</text>
<text x="1007.0" y="1176">400</text>
<text x="1182.0" y="1176">500</text>
</g>
<text x="784.5" y="1260" font-size="82.5" text-anchor="middle">Cycle number</text>
<text transform="translate(62.5,578.7) rotate(-90)" font-size="83.8" text-anchor="middle">Discharage capacity (%)</text>
<g font-size="34.2">
<path d="M251.5,794.0 H328" stroke="#000" stroke-width="2" fill="none"/>
<rect x="275.0" y="779.0" width="30" height="30" fill="#000"/>
<text x="336" y="805.4">2%VC</text>
<path d="M251.5,836.4 H328" stroke="#0000ff" stroke-width="2" fill="none"/>
<circle cx="290.0" cy="836.4" r="17" fill="#0000ff"/>
<text x="336" y="847.8">2%VC+1%DTD+0.5%TTSP+0.5%TTSPi</text>
<path d="M251.5,878.8 H328" stroke="#ff0000" stroke-width="2" fill="none"/>
<rect x="276.0" y="864.8" width="28" height="28" fill="#fff" stroke="#ff0000" stroke-width="2"/>
<text x="336" y="890.2">2%VC+1%DTD+1%TTSP+1%TTSPi</text>
<path d="M251.5,922.0 H328" stroke="#00ff00" stroke-width="2" fill="none"/>
<path transform="translate(290.0,922.0)" d="M0,-21.94 L19.00,10.97 L-19.00,10.97 Z" fill="#00ff00" stroke="#00ff00" stroke-width="2"/>
<text x="336" y="933.4">2%VC+2%DTD+0.5%TTSP+0.5%TTSPi</text>
<path d="M251.5,964.2 H328" stroke="#800000" stroke-width="2" fill="none"/>
<path transform="translate(290.0,964.2)" d="M0,-19.5 L19.5,0 L0,19.5 L-19.5,0 Z" fill="#fff" stroke="#800000" stroke-width="2"/>
<text x="336" y="975.6">2%VC+2%DTD+1%TTSP+1%TTSPi</text>
<path d="M251.5,1007.5 H328" stroke="#ff00ff" stroke-width="2" fill="none"/>
<path transform="translate(290.0,1007.5)" d="M0,-21.94 L19.00,10.97 L-19.00,10.97 Z" fill="#fff" stroke="#ff00ff" stroke-width="2"/>
<text x="336" y="1018.9">2%VC+2%DTD+2%TTSP+1%TTSPi</text>
</g>
</svg></body></html>
